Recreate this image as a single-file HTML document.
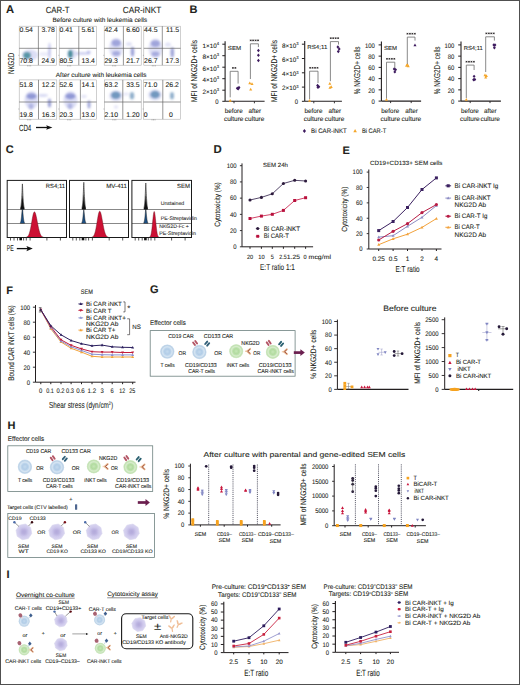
<!DOCTYPE html><html><head><meta charset="utf-8"><style>html,body{margin:0;padding:0;background:#fff;}svg{display:block;}text{font-family:"Liberation Sans",sans-serif;text-rendering:geometricPrecision;stroke:#231f20;stroke-width:0.09px;}</style></head><body>
<svg width="520" height="685" viewBox="0 0 520 685" font-family="&quot;Liberation Sans&quot;, sans-serif" fill="#231f20">
<defs><filter id="bl" x="-50%" y="-50%" width="200%" height="200%"><feGaussianBlur stdDeviation="1.1"/></filter><filter id="bl2" x="-50%" y="-50%" width="200%" height="200%"><feGaussianBlur stdDeviation="0.8"/></filter><radialGradient id="gT"><stop offset="0" stop-color="#c4daee"/><stop offset="0.6" stop-color="#b2cde7"/><stop offset="1" stop-color="#c6dbef"/></radialGradient><radialGradient id="gN"><stop offset="0" stop-color="#c6e7b7"/><stop offset="0.6" stop-color="#b2dba0"/><stop offset="1" stop-color="#c5e5b6"/></radialGradient><radialGradient id="gS"><stop offset="0" stop-color="#c3bbe4"/><stop offset="0.5" stop-color="#ccc6eb"/><stop offset="1" stop-color="#d8d4f0"/></radialGradient></defs>
<rect x="0" y="0" width="520" height="685" fill="#fff"/>
<text x="5.90" y="12.90" font-size="11.2" font-weight="bold">A</text>
<text x="45.70" y="13.10" font-size="8.9" textLength="23.90" lengthAdjust="spacingAndGlyphs">CAR-T</text>
<text x="122.70" y="13.10" font-size="8.9" textLength="38.50" lengthAdjust="spacingAndGlyphs">CAR-iNKT</text>
<text x="52.40" y="21.70" font-size="6.3" textLength="94.80" lengthAdjust="spacingAndGlyphs">Before culture with leukemia cells</text>
<text x="55.80" y="76.60" font-size="6.3" textLength="90.70" lengthAdjust="spacingAndGlyphs">After culture with leukemia cells</text>
<text transform="translate(14.00,63.40) rotate(-90)" x="0" y="0" font-size="8.6" text-anchor="middle" textLength="21.40" lengthAdjust="spacingAndGlyphs">NKG2D</text>
<text x="19.00" y="130.70" font-size="9.0" textLength="12.30" lengthAdjust="spacingAndGlyphs">CD4</text>
<line x1="36.00" y1="127.50" x2="48.00" y2="127.50" stroke="#111" stroke-width="1.3"/>
<path d="M52.40,127.50 L46.20,125.20 L47.20,127.50 L46.20,129.80 Z" fill="#111"/>
<rect x="19.20" y="26.20" width="37.30" height="39.00" fill="#fff" stroke="#a8a8a8" stroke-width="0.55"/>
<g filter="url(#bl)">
<ellipse cx="30.00" cy="55.00" rx="8.00" ry="5.50" fill="#9aa0e2" opacity="0.35"/>
<ellipse cx="27.00" cy="55.40" rx="3.80" ry="3.40" fill="#3a8494" opacity="0.8"/>
<ellipse cx="49.50" cy="51.00" rx="1.40" ry="8.50" fill="#9aa0e2" opacity="0.55"/>
<ellipse cx="44.00" cy="54.00" rx="5.00" ry="2.00" fill="#9aa0e2" opacity="0.2"/>
</g>
<line x1="38.40" y1="26.20" x2="38.40" y2="65.20" stroke="#5f5f5f" stroke-width="0.65"/>
<line x1="19.20" y1="48.30" x2="56.50" y2="48.30" stroke="#5f5f5f" stroke-width="0.65"/>
<text x="19.50" y="31.80" font-size="6.9">0.54</text>
<text x="54.90" y="31.80" font-size="6.9" text-anchor="end">3.78</text>
<text x="19.50" y="63.40" font-size="6.9">70.8</text>
<text x="54.90" y="63.40" font-size="6.9" text-anchor="end">24.9</text>
<line x1="27.70" y1="65.20" x2="27.70" y2="66.40" stroke="#777" stroke-width="0.5"/>
<line x1="29.20" y1="65.20" x2="29.20" y2="66.40" stroke="#777" stroke-width="0.5"/>
<line x1="30.70" y1="65.20" x2="30.70" y2="66.40" stroke="#777" stroke-width="0.5"/>
<line x1="18.30" y1="55.30" x2="19.20" y2="55.30" stroke="#777" stroke-width="0.5"/>
<rect x="59.20" y="26.20" width="37.30" height="39.00" fill="#fff" stroke="#a8a8a8" stroke-width="0.55"/>
<g filter="url(#bl)">
<ellipse cx="72.00" cy="54.00" rx="5.00" ry="5.00" fill="#9aa0e2" opacity="0.3"/>
<ellipse cx="70.40" cy="54.00" rx="2.40" ry="4.00" fill="#3a8494" opacity="0.9"/>
<ellipse cx="82.00" cy="53.40" rx="7.00" ry="1.40" fill="#9aa0e2" opacity="0.5"/>
<ellipse cx="88.60" cy="52.40" rx="2.00" ry="2.00" fill="#9aa0e2" opacity="0.6"/>
</g>
<line x1="78.80" y1="26.20" x2="78.80" y2="65.20" stroke="#5f5f5f" stroke-width="0.65"/>
<line x1="59.20" y1="48.30" x2="96.50" y2="48.30" stroke="#5f5f5f" stroke-width="0.65"/>
<text x="59.50" y="31.80" font-size="6.9">0.41</text>
<text x="94.90" y="31.80" font-size="6.9" text-anchor="end">5.61</text>
<text x="59.50" y="63.40" font-size="6.9">80.5</text>
<text x="94.90" y="63.40" font-size="6.9" text-anchor="end">13.4</text>
<line x1="67.70" y1="65.20" x2="67.70" y2="66.40" stroke="#777" stroke-width="0.5"/>
<line x1="69.20" y1="65.20" x2="69.20" y2="66.40" stroke="#777" stroke-width="0.5"/>
<line x1="70.70" y1="65.20" x2="70.70" y2="66.40" stroke="#777" stroke-width="0.5"/>
<line x1="58.30" y1="55.30" x2="59.20" y2="55.30" stroke="#777" stroke-width="0.5"/>
<rect x="104.20" y="26.20" width="37.00" height="39.00" fill="#fff" stroke="#a8a8a8" stroke-width="0.55"/>
<g filter="url(#bl)">
<ellipse cx="116.00" cy="48.00" rx="7.00" ry="10.00" fill="#9aa0e2" opacity="0.3"/>
<ellipse cx="116.20" cy="43.00" rx="4.60" ry="3.40" fill="#5d67c0" opacity="0.5"/>
<ellipse cx="116.20" cy="53.50" rx="4.00" ry="2.40" fill="#5d67c0" opacity="0.45"/>
<ellipse cx="132.50" cy="51.80" rx="1.80" ry="5.00" fill="#5d67c0" opacity="0.6"/>
<ellipse cx="129.00" cy="44.00" rx="3.00" ry="2.00" fill="#9aa0e2" opacity="0.3"/>
</g>
<line x1="123.40" y1="26.20" x2="123.40" y2="65.20" stroke="#5f5f5f" stroke-width="0.65"/>
<line x1="104.20" y1="48.30" x2="141.20" y2="48.30" stroke="#5f5f5f" stroke-width="0.65"/>
<text x="104.50" y="31.80" font-size="6.9">42.4</text>
<text x="139.60" y="31.80" font-size="6.9" text-anchor="end">6.60</text>
<text x="104.50" y="63.40" font-size="6.9">29.3</text>
<text x="139.60" y="63.40" font-size="6.9" text-anchor="end">21.7</text>
<line x1="112.70" y1="65.20" x2="112.70" y2="66.40" stroke="#777" stroke-width="0.5"/>
<line x1="114.20" y1="65.20" x2="114.20" y2="66.40" stroke="#777" stroke-width="0.5"/>
<line x1="115.70" y1="65.20" x2="115.70" y2="66.40" stroke="#777" stroke-width="0.5"/>
<line x1="103.30" y1="55.30" x2="104.20" y2="55.30" stroke="#777" stroke-width="0.5"/>
<rect x="143.80" y="26.20" width="36.80" height="39.00" fill="#fff" stroke="#a8a8a8" stroke-width="0.55"/>
<g filter="url(#bl)">
<ellipse cx="155.50" cy="48.50" rx="7.00" ry="10.00" fill="#9aa0e2" opacity="0.3"/>
<ellipse cx="155.40" cy="43.60" rx="4.60" ry="3.40" fill="#5d67c0" opacity="0.5"/>
<ellipse cx="155.40" cy="54.00" rx="4.00" ry="2.40" fill="#5d67c0" opacity="0.45"/>
<ellipse cx="172.30" cy="52.50" rx="1.80" ry="5.20" fill="#5d67c0" opacity="0.6"/>
<ellipse cx="168.00" cy="44.50" rx="3.00" ry="2.00" fill="#9aa0e2" opacity="0.3"/>
</g>
<line x1="162.30" y1="26.20" x2="162.30" y2="65.20" stroke="#5f5f5f" stroke-width="0.65"/>
<line x1="143.80" y1="48.30" x2="180.60" y2="48.30" stroke="#5f5f5f" stroke-width="0.65"/>
<text x="144.10" y="31.80" font-size="6.9">44.5</text>
<text x="179.00" y="31.80" font-size="6.9" text-anchor="end">11.5</text>
<text x="144.10" y="63.40" font-size="6.9">26.7</text>
<text x="179.00" y="63.40" font-size="6.9" text-anchor="end">17.3</text>
<line x1="152.30" y1="65.20" x2="152.30" y2="66.40" stroke="#777" stroke-width="0.5"/>
<line x1="153.80" y1="65.20" x2="153.80" y2="66.40" stroke="#777" stroke-width="0.5"/>
<line x1="155.30" y1="65.20" x2="155.30" y2="66.40" stroke="#777" stroke-width="0.5"/>
<line x1="142.90" y1="55.30" x2="143.80" y2="55.30" stroke="#777" stroke-width="0.5"/>
<rect x="19.20" y="79.90" width="37.60" height="39.30" fill="#fff" stroke="#a8a8a8" stroke-width="0.55"/>
<g filter="url(#bl)">
<ellipse cx="31.50" cy="100.00" rx="7.00" ry="9.00" fill="#9aa0e2" opacity="0.35"/>
<ellipse cx="31.50" cy="96.20" rx="5.00" ry="3.00" fill="#5d67c0" opacity="0.6"/>
<ellipse cx="31.00" cy="106.50" rx="2.40" ry="3.20" fill="#5d67c0" opacity="0.35"/>
<ellipse cx="49.50" cy="103.00" rx="1.70" ry="4.60" fill="#5d67c0" opacity="0.6"/>
<ellipse cx="43.00" cy="95.50" rx="5.00" ry="1.40" fill="#9aa0e2" opacity="0.4"/>
</g>
<line x1="38.50" y1="79.90" x2="38.50" y2="119.20" stroke="#5f5f5f" stroke-width="0.65"/>
<line x1="19.20" y1="102.00" x2="56.80" y2="102.00" stroke="#5f5f5f" stroke-width="0.65"/>
<text x="19.50" y="87.40" font-size="6.9">51.8</text>
<text x="55.20" y="87.40" font-size="6.9" text-anchor="end">12.2</text>
<text x="19.50" y="116.90" font-size="6.9">19.8</text>
<text x="55.20" y="116.90" font-size="6.9" text-anchor="end">16.3</text>
<line x1="27.70" y1="119.20" x2="27.70" y2="120.40" stroke="#777" stroke-width="0.5"/>
<line x1="29.20" y1="119.20" x2="29.20" y2="120.40" stroke="#777" stroke-width="0.5"/>
<line x1="30.70" y1="119.20" x2="30.70" y2="120.40" stroke="#777" stroke-width="0.5"/>
<line x1="18.30" y1="109.00" x2="19.20" y2="109.00" stroke="#777" stroke-width="0.5"/>
<rect x="59.20" y="79.90" width="37.30" height="39.30" fill="#fff" stroke="#a8a8a8" stroke-width="0.55"/>
<g filter="url(#bl)">
<ellipse cx="70.50" cy="100.00" rx="7.00" ry="9.00" fill="#9aa0e2" opacity="0.35"/>
<ellipse cx="70.40" cy="96.20" rx="5.00" ry="3.00" fill="#5d67c0" opacity="0.6"/>
<ellipse cx="70.00" cy="106.20" rx="2.40" ry="3.20" fill="#5d67c0" opacity="0.35"/>
<ellipse cx="89.00" cy="104.40" rx="1.60" ry="4.20" fill="#5d67c0" opacity="0.55"/>
<ellipse cx="84.00" cy="96.50" rx="3.00" ry="1.40" fill="#9aa0e2" opacity="0.3"/>
</g>
<line x1="80.40" y1="79.90" x2="80.40" y2="119.20" stroke="#5f5f5f" stroke-width="0.65"/>
<line x1="59.20" y1="102.00" x2="96.50" y2="102.00" stroke="#5f5f5f" stroke-width="0.65"/>
<text x="59.50" y="87.40" font-size="6.9">52.6</text>
<text x="94.90" y="87.40" font-size="6.9" text-anchor="end">14.1</text>
<text x="59.50" y="116.90" font-size="6.9">20.3</text>
<text x="94.90" y="116.90" font-size="6.9" text-anchor="end">13.0</text>
<line x1="67.70" y1="119.20" x2="67.70" y2="120.40" stroke="#777" stroke-width="0.5"/>
<line x1="69.20" y1="119.20" x2="69.20" y2="120.40" stroke="#777" stroke-width="0.5"/>
<line x1="70.70" y1="119.20" x2="70.70" y2="120.40" stroke="#777" stroke-width="0.5"/>
<line x1="58.30" y1="109.00" x2="59.20" y2="109.00" stroke="#777" stroke-width="0.5"/>
<rect x="104.30" y="79.90" width="36.90" height="39.30" fill="#fff" stroke="#a8a8a8" stroke-width="0.55"/>
<g filter="url(#bl)">
<ellipse cx="116.00" cy="96.00" rx="7.00" ry="5.50" fill="#9aa0e2" opacity="0.3"/>
<ellipse cx="115.80" cy="95.20" rx="4.80" ry="3.80" fill="#4378a8" opacity="0.7"/>
<ellipse cx="132.00" cy="95.70" rx="2.20" ry="3.80" fill="#4378a8" opacity="0.6"/>
<ellipse cx="116.00" cy="107.00" rx="2.00" ry="2.00" fill="#9aa0e2" opacity="0.25"/>
<ellipse cx="126.00" cy="94.00" rx="3.00" ry="1.50" fill="#9aa0e2" opacity="0.25"/>
</g>
<line x1="122.80" y1="79.90" x2="122.80" y2="119.20" stroke="#5f5f5f" stroke-width="0.65"/>
<line x1="104.30" y1="102.00" x2="141.20" y2="102.00" stroke="#5f5f5f" stroke-width="0.65"/>
<text x="104.60" y="87.40" font-size="6.9">63.2</text>
<text x="139.60" y="87.40" font-size="6.9" text-anchor="end">33.5</text>
<text x="104.60" y="116.90" font-size="6.9">2.10</text>
<text x="139.60" y="116.90" font-size="6.9" text-anchor="end">1.20</text>
<line x1="112.80" y1="119.20" x2="112.80" y2="120.40" stroke="#777" stroke-width="0.5"/>
<line x1="114.30" y1="119.20" x2="114.30" y2="120.40" stroke="#777" stroke-width="0.5"/>
<line x1="115.80" y1="119.20" x2="115.80" y2="120.40" stroke="#777" stroke-width="0.5"/>
<line x1="103.40" y1="109.00" x2="104.30" y2="109.00" stroke="#777" stroke-width="0.5"/>
<rect x="143.50" y="79.90" width="37.00" height="39.30" fill="#fff" stroke="#a8a8a8" stroke-width="0.55"/>
<g filter="url(#bl)">
<ellipse cx="155.00" cy="95.00" rx="7.00" ry="5.50" fill="#9aa0e2" opacity="0.3"/>
<ellipse cx="155.10" cy="94.60" rx="4.80" ry="3.80" fill="#4378a8" opacity="0.7"/>
<ellipse cx="172.00" cy="95.70" rx="2.00" ry="3.80" fill="#4378a8" opacity="0.6"/>
</g>
<line x1="162.80" y1="79.90" x2="162.80" y2="119.20" stroke="#5f5f5f" stroke-width="0.65"/>
<line x1="143.50" y1="102.00" x2="180.50" y2="102.00" stroke="#5f5f5f" stroke-width="0.65"/>
<text x="143.80" y="87.40" font-size="6.9">71.0</text>
<text x="178.90" y="87.40" font-size="6.9" text-anchor="end">26.2</text>
<text x="143.80" y="116.90" font-size="6.9">0</text>
<text x="178.90" y="116.90" font-size="6.9" text-anchor="end"></text>
<line x1="152.00" y1="119.20" x2="152.00" y2="120.40" stroke="#777" stroke-width="0.5"/>
<line x1="153.50" y1="119.20" x2="153.50" y2="120.40" stroke="#777" stroke-width="0.5"/>
<line x1="155.00" y1="119.20" x2="155.00" y2="120.40" stroke="#777" stroke-width="0.5"/>
<line x1="142.60" y1="109.00" x2="143.50" y2="109.00" stroke="#777" stroke-width="0.5"/>
<text x="171.00" y="116.90" font-size="6.9" text-anchor="middle">0</text>
<text x="189.60" y="13.20" font-size="11" font-weight="bold">B</text>
<line x1="225.10" y1="41.20" x2="225.10" y2="101.30" stroke="#231f20" stroke-width="1.1"/>
<line x1="222.30" y1="44.20" x2="225.10" y2="44.20" stroke="#231f20" stroke-width="1.0"/>
<text x="202.50" y="47.50" font-size="6.3" textLength="16.60" lengthAdjust="spacingAndGlyphs">1×10<tspan font-size="4.2" dy="-2.6">4</tspan></text>
<line x1="222.30" y1="55.70" x2="225.10" y2="55.70" stroke="#231f20" stroke-width="1.0"/>
<text x="202.50" y="59.00" font-size="6.3" textLength="16.60" lengthAdjust="spacingAndGlyphs">8×10<tspan font-size="4.2" dy="-2.6">3</tspan></text>
<line x1="222.30" y1="67.20" x2="225.10" y2="67.20" stroke="#231f20" stroke-width="1.0"/>
<text x="202.50" y="70.50" font-size="6.3" textLength="16.60" lengthAdjust="spacingAndGlyphs">6×10<tspan font-size="4.2" dy="-2.6">3</tspan></text>
<line x1="222.30" y1="78.70" x2="225.10" y2="78.70" stroke="#231f20" stroke-width="1.0"/>
<text x="202.50" y="82.00" font-size="6.3" textLength="16.60" lengthAdjust="spacingAndGlyphs">4×10<tspan font-size="4.2" dy="-2.6">3</tspan></text>
<line x1="222.30" y1="90.20" x2="225.10" y2="90.20" stroke="#231f20" stroke-width="1.0"/>
<text x="202.50" y="93.50" font-size="6.3" textLength="16.60" lengthAdjust="spacingAndGlyphs">2×10<tspan font-size="4.2" dy="-2.6">3</tspan></text>
<line x1="222.30" y1="101.30" x2="225.10" y2="101.30" stroke="#231f20" stroke-width="1.0"/>
<text x="215.20" y="103.95" font-size="6.6" textLength="3.30" lengthAdjust="spacingAndGlyphs">0</text>
<line x1="225.10" y1="101.30" x2="264.60" y2="101.30" stroke="#231f20" stroke-width="1.1"/>
<line x1="234.00" y1="101.30" x2="234.00" y2="103.30" stroke="#231f20" stroke-width="0.9"/>
<line x1="254.40" y1="101.30" x2="254.40" y2="103.30" stroke="#231f20" stroke-width="0.9"/>
<path d="M230.20,98.93 L231.75,101.72 L228.65,101.72 Z" fill="#f4a62a"/>
<path d="M237.30,86.56 L238.75,88.30 L237.30,90.04 L235.85,88.30 Z" fill="#3d1a5e"/>
<path d="M239.00,85.86 L240.45,87.60 L239.00,89.34 L237.55,87.60 Z" fill="#3d1a5e"/>
<path d="M238.20,87.06 L239.65,88.80 L238.20,90.54 L236.75,88.80 Z" fill="#3d1a5e"/>
<path d="M249.80,81.43 L251.35,84.22 L248.25,84.22 Z" fill="#f4a62a"/>
<path d="M252.00,82.33 L253.55,85.12 L250.45,85.12 Z" fill="#f4a62a"/>
<path d="M250.70,87.63 L252.25,90.42 L249.15,90.42 Z" fill="#f4a62a"/>
<path d="M258.40,48.66 L259.85,50.40 L258.40,52.14 L256.95,50.40 Z" fill="#3d1a5e"/>
<path d="M258.40,53.46 L259.85,55.20 L258.40,56.94 L256.95,55.20 Z" fill="#3d1a5e"/>
<path d="M258.40,58.66 L259.85,60.40 L258.40,62.14 L256.95,60.40 Z" fill="#3d1a5e"/>
<path d="M230.20,97.30 L230.20,71.30 L238.10,71.30 L238.10,83.60" fill="none" stroke="#6b6b6b" stroke-width="0.8"/>
<line x1="231.97" y1="67.90" x2="233.87" y2="67.90" stroke="#231f20" stroke-width="0.65"/>
<line x1="232.45" y1="67.08" x2="233.40" y2="68.72" stroke="#231f20" stroke-width="0.65"/>
<line x1="233.40" y1="67.08" x2="232.45" y2="68.72" stroke="#231f20" stroke-width="0.65"/>
<line x1="234.42" y1="67.90" x2="236.32" y2="67.90" stroke="#231f20" stroke-width="0.65"/>
<line x1="234.90" y1="67.08" x2="235.85" y2="68.72" stroke="#231f20" stroke-width="0.65"/>
<line x1="235.85" y1="67.08" x2="234.90" y2="68.72" stroke="#231f20" stroke-width="0.65"/>
<path d="M250.40,79.00 L250.40,43.80 L258.40,43.80 L258.40,47.10" fill="none" stroke="#6b6b6b" stroke-width="0.8"/>
<line x1="249.77" y1="40.40" x2="251.67" y2="40.40" stroke="#231f20" stroke-width="0.65"/>
<line x1="250.25" y1="39.58" x2="251.20" y2="41.22" stroke="#231f20" stroke-width="0.65"/>
<line x1="251.20" y1="39.58" x2="250.25" y2="41.22" stroke="#231f20" stroke-width="0.65"/>
<line x1="252.22" y1="40.40" x2="254.12" y2="40.40" stroke="#231f20" stroke-width="0.65"/>
<line x1="252.70" y1="39.58" x2="253.65" y2="41.22" stroke="#231f20" stroke-width="0.65"/>
<line x1="253.65" y1="39.58" x2="252.70" y2="41.22" stroke="#231f20" stroke-width="0.65"/>
<line x1="254.67" y1="40.40" x2="256.57" y2="40.40" stroke="#231f20" stroke-width="0.65"/>
<line x1="255.15" y1="39.58" x2="256.10" y2="41.22" stroke="#231f20" stroke-width="0.65"/>
<line x1="256.10" y1="39.58" x2="255.15" y2="41.22" stroke="#231f20" stroke-width="0.65"/>
<line x1="257.12" y1="40.40" x2="259.02" y2="40.40" stroke="#231f20" stroke-width="0.65"/>
<line x1="257.60" y1="39.58" x2="258.55" y2="41.22" stroke="#231f20" stroke-width="0.65"/>
<line x1="258.55" y1="39.58" x2="257.60" y2="41.22" stroke="#231f20" stroke-width="0.65"/>
<text x="227.80" y="50.30" font-size="5.9" textLength="13.30" lengthAdjust="spacingAndGlyphs">SEM</text>
<text transform="translate(197.40,70.90) rotate(-90)" x="0" y="0" font-size="8.5" text-anchor="middle" textLength="62.00" lengthAdjust="spacingAndGlyphs">MFI of NKG2D+ cells</text>
<text x="233.70" y="113.10" font-size="6.4" text-anchor="middle" textLength="17.90" lengthAdjust="spacingAndGlyphs">before</text>
<text x="254.80" y="113.10" font-size="6.4" text-anchor="middle" textLength="12.60" lengthAdjust="spacingAndGlyphs">after</text>
<text x="233.70" y="120.90" font-size="6.4" text-anchor="middle" textLength="19.60" lengthAdjust="spacingAndGlyphs">culture</text>
<text x="254.60" y="120.90" font-size="6.4" text-anchor="middle" textLength="19.60" lengthAdjust="spacingAndGlyphs">culture</text>
<line x1="304.70" y1="41.00" x2="304.70" y2="101.30" stroke="#231f20" stroke-width="1.1"/>
<line x1="301.90" y1="44.20" x2="304.70" y2="44.20" stroke="#231f20" stroke-width="1.0"/>
<text x="282.10" y="47.50" font-size="6.3" textLength="16.60" lengthAdjust="spacingAndGlyphs">8×10<tspan font-size="4.2" dy="-2.6">3</tspan></text>
<line x1="301.90" y1="58.50" x2="304.70" y2="58.50" stroke="#231f20" stroke-width="1.0"/>
<text x="282.10" y="61.80" font-size="6.3" textLength="16.60" lengthAdjust="spacingAndGlyphs">6×10<tspan font-size="4.2" dy="-2.6">3</tspan></text>
<line x1="301.90" y1="72.80" x2="304.70" y2="72.80" stroke="#231f20" stroke-width="1.0"/>
<text x="282.10" y="76.10" font-size="6.3" textLength="16.60" lengthAdjust="spacingAndGlyphs">4×10<tspan font-size="4.2" dy="-2.6">3</tspan></text>
<line x1="301.90" y1="87.10" x2="304.70" y2="87.10" stroke="#231f20" stroke-width="1.0"/>
<text x="282.10" y="90.40" font-size="6.3" textLength="16.60" lengthAdjust="spacingAndGlyphs">2×10<tspan font-size="4.2" dy="-2.6">3</tspan></text>
<line x1="301.90" y1="101.30" x2="304.70" y2="101.30" stroke="#231f20" stroke-width="1.0"/>
<text x="294.80" y="103.95" font-size="6.6" textLength="3.30" lengthAdjust="spacingAndGlyphs">0</text>
<line x1="304.70" y1="101.30" x2="341.90" y2="101.30" stroke="#231f20" stroke-width="1.1"/>
<line x1="313.80" y1="101.30" x2="313.80" y2="103.30" stroke="#231f20" stroke-width="0.9"/>
<line x1="334.40" y1="101.30" x2="334.40" y2="103.30" stroke="#231f20" stroke-width="0.9"/>
<path d="M309.60,98.93 L311.15,101.72 L308.05,101.72 Z" fill="#f4a62a"/>
<path d="M317.60,83.76 L319.05,85.50 L317.60,87.24 L316.15,85.50 Z" fill="#3d1a5e"/>
<path d="M318.80,85.06 L320.25,86.80 L318.80,88.54 L317.35,86.80 Z" fill="#3d1a5e"/>
<path d="M317.90,85.56 L319.35,87.30 L317.90,89.04 L316.45,87.30 Z" fill="#3d1a5e"/>
<path d="M329.80,81.93 L331.35,84.72 L328.25,84.72 Z" fill="#f4a62a"/>
<path d="M331.20,85.13 L332.75,87.92 L329.65,87.92 Z" fill="#f4a62a"/>
<path d="M330.00,85.93 L331.55,88.72 L328.45,88.72 Z" fill="#f4a62a"/>
<path d="M337.90,45.26 L339.35,47.00 L337.90,48.74 L336.45,47.00 Z" fill="#3d1a5e"/>
<path d="M339.20,47.26 L340.65,49.00 L339.20,50.74 L337.75,49.00 Z" fill="#3d1a5e"/>
<path d="M338.30,49.86 L339.75,51.60 L338.30,53.34 L336.85,51.60 Z" fill="#3d1a5e"/>
<path d="M309.60,99.00 L309.60,71.20 L318.00,71.20 L318.00,83.00" fill="none" stroke="#6b6b6b" stroke-width="0.8"/>
<line x1="309.18" y1="67.80" x2="311.07" y2="67.80" stroke="#231f20" stroke-width="0.65"/>
<line x1="309.65" y1="66.98" x2="310.60" y2="68.62" stroke="#231f20" stroke-width="0.65"/>
<line x1="310.60" y1="66.98" x2="309.65" y2="68.62" stroke="#231f20" stroke-width="0.65"/>
<line x1="311.62" y1="67.80" x2="313.52" y2="67.80" stroke="#231f20" stroke-width="0.65"/>
<line x1="312.10" y1="66.98" x2="313.05" y2="68.62" stroke="#231f20" stroke-width="0.65"/>
<line x1="313.05" y1="66.98" x2="312.10" y2="68.62" stroke="#231f20" stroke-width="0.65"/>
<line x1="314.08" y1="67.80" x2="315.98" y2="67.80" stroke="#231f20" stroke-width="0.65"/>
<line x1="314.55" y1="66.98" x2="315.50" y2="68.62" stroke="#231f20" stroke-width="0.65"/>
<line x1="315.50" y1="66.98" x2="314.55" y2="68.62" stroke="#231f20" stroke-width="0.65"/>
<line x1="316.53" y1="67.80" x2="318.43" y2="67.80" stroke="#231f20" stroke-width="0.65"/>
<line x1="317.00" y1="66.98" x2="317.95" y2="68.62" stroke="#231f20" stroke-width="0.65"/>
<line x1="317.95" y1="66.98" x2="317.00" y2="68.62" stroke="#231f20" stroke-width="0.65"/>
<path d="M330.40,81.20 L330.40,41.60 L338.50,41.60 L338.50,44.60" fill="none" stroke="#6b6b6b" stroke-width="0.8"/>
<line x1="329.82" y1="38.20" x2="331.72" y2="38.20" stroke="#231f20" stroke-width="0.65"/>
<line x1="330.30" y1="37.38" x2="331.25" y2="39.02" stroke="#231f20" stroke-width="0.65"/>
<line x1="331.25" y1="37.38" x2="330.30" y2="39.02" stroke="#231f20" stroke-width="0.65"/>
<line x1="332.27" y1="38.20" x2="334.17" y2="38.20" stroke="#231f20" stroke-width="0.65"/>
<line x1="332.75" y1="37.38" x2="333.70" y2="39.02" stroke="#231f20" stroke-width="0.65"/>
<line x1="333.70" y1="37.38" x2="332.75" y2="39.02" stroke="#231f20" stroke-width="0.65"/>
<line x1="334.73" y1="38.20" x2="336.62" y2="38.20" stroke="#231f20" stroke-width="0.65"/>
<line x1="335.20" y1="37.38" x2="336.15" y2="39.02" stroke="#231f20" stroke-width="0.65"/>
<line x1="336.15" y1="37.38" x2="335.20" y2="39.02" stroke="#231f20" stroke-width="0.65"/>
<line x1="337.18" y1="38.20" x2="339.07" y2="38.20" stroke="#231f20" stroke-width="0.65"/>
<line x1="337.65" y1="37.38" x2="338.60" y2="39.02" stroke="#231f20" stroke-width="0.65"/>
<line x1="338.60" y1="37.38" x2="337.65" y2="39.02" stroke="#231f20" stroke-width="0.65"/>
<text x="307.30" y="48.60" font-size="5.9" textLength="20.00" lengthAdjust="spacingAndGlyphs">RS4;11</text>
<text transform="translate(277.00,70.90) rotate(-90)" x="0" y="0" font-size="8.5" text-anchor="middle" textLength="62.00" lengthAdjust="spacingAndGlyphs">MFI of NKG2D+ cells</text>
<text x="313.50" y="113.10" font-size="6.4" text-anchor="middle" textLength="17.90" lengthAdjust="spacingAndGlyphs">before</text>
<text x="334.80" y="113.10" font-size="6.4" text-anchor="middle" textLength="12.60" lengthAdjust="spacingAndGlyphs">after</text>
<text x="313.50" y="120.90" font-size="6.4" text-anchor="middle" textLength="19.60" lengthAdjust="spacingAndGlyphs">culture</text>
<text x="334.60" y="120.90" font-size="6.4" text-anchor="middle" textLength="19.60" lengthAdjust="spacingAndGlyphs">culture</text>
<line x1="381.40" y1="41.40" x2="381.40" y2="101.10" stroke="#231f20" stroke-width="1.1"/>
<line x1="378.60" y1="44.90" x2="381.40" y2="44.90" stroke="#231f20" stroke-width="1.0"/>
<text x="364.90" y="47.55" font-size="6.6" textLength="9.90" lengthAdjust="spacingAndGlyphs">100</text>
<line x1="378.60" y1="56.14" x2="381.40" y2="56.14" stroke="#231f20" stroke-width="1.0"/>
<text x="368.20" y="58.79" font-size="6.6" textLength="6.60" lengthAdjust="spacingAndGlyphs">80</text>
<line x1="378.60" y1="67.38" x2="381.40" y2="67.38" stroke="#231f20" stroke-width="1.0"/>
<text x="368.20" y="70.03" font-size="6.6" textLength="6.60" lengthAdjust="spacingAndGlyphs">60</text>
<line x1="378.60" y1="78.62" x2="381.40" y2="78.62" stroke="#231f20" stroke-width="1.0"/>
<text x="368.20" y="81.27" font-size="6.6" textLength="6.60" lengthAdjust="spacingAndGlyphs">40</text>
<line x1="378.60" y1="89.86" x2="381.40" y2="89.86" stroke="#231f20" stroke-width="1.0"/>
<text x="368.20" y="92.51" font-size="6.6" textLength="6.60" lengthAdjust="spacingAndGlyphs">20</text>
<line x1="378.60" y1="101.10" x2="381.40" y2="101.10" stroke="#231f20" stroke-width="1.0"/>
<text x="371.50" y="103.75" font-size="6.6" textLength="3.30" lengthAdjust="spacingAndGlyphs">0</text>
<line x1="381.40" y1="101.10" x2="421.10" y2="101.10" stroke="#231f20" stroke-width="1.1"/>
<line x1="390.60" y1="101.10" x2="390.60" y2="103.10" stroke="#231f20" stroke-width="0.9"/>
<line x1="411.20" y1="101.10" x2="411.20" y2="103.10" stroke="#231f20" stroke-width="0.9"/>
<path d="M386.50,97.93 L388.05,100.72 L384.95,100.72 Z" fill="#f4a62a"/>
<path d="M394.80,70.14 L396.25,71.88 L394.80,73.62 L393.35,71.88 Z" fill="#3d1a5e"/>
<path d="M394.20,67.33 L395.65,69.07 L394.20,70.81 L392.75,69.07 Z" fill="#3d1a5e"/>
<path d="M395.60,67.89 L397.05,69.63 L395.60,71.37 L394.15,69.63 Z" fill="#3d1a5e"/>
<path d="M406.60,64.02 L408.15,66.81 L405.05,66.81 Z" fill="#f4a62a"/>
<path d="M408.20,64.58 L409.75,67.37 L406.65,67.37 Z" fill="#f4a62a"/>
<path d="M407.30,62.90 L408.85,65.69 L405.75,65.69 Z" fill="#f4a62a"/>
<path d="M415.00,43.51 L416.55,46.30 L413.45,46.30 Z" fill="#3d1a5e"/>
<path d="M386.50,98.50 L386.50,62.20 L394.80,62.20 L394.80,68.30" fill="none" stroke="#6b6b6b" stroke-width="0.8"/>
<line x1="386.02" y1="58.80" x2="387.92" y2="58.80" stroke="#231f20" stroke-width="0.65"/>
<line x1="386.50" y1="57.98" x2="387.45" y2="59.62" stroke="#231f20" stroke-width="0.65"/>
<line x1="387.45" y1="57.98" x2="386.50" y2="59.62" stroke="#231f20" stroke-width="0.65"/>
<line x1="388.47" y1="58.80" x2="390.37" y2="58.80" stroke="#231f20" stroke-width="0.65"/>
<line x1="388.95" y1="57.98" x2="389.90" y2="59.62" stroke="#231f20" stroke-width="0.65"/>
<line x1="389.90" y1="57.98" x2="388.95" y2="59.62" stroke="#231f20" stroke-width="0.65"/>
<line x1="390.93" y1="58.80" x2="392.82" y2="58.80" stroke="#231f20" stroke-width="0.65"/>
<line x1="391.40" y1="57.98" x2="392.35" y2="59.62" stroke="#231f20" stroke-width="0.65"/>
<line x1="392.35" y1="57.98" x2="391.40" y2="59.62" stroke="#231f20" stroke-width="0.65"/>
<line x1="393.38" y1="58.80" x2="395.27" y2="58.80" stroke="#231f20" stroke-width="0.65"/>
<line x1="393.85" y1="57.98" x2="394.80" y2="59.62" stroke="#231f20" stroke-width="0.65"/>
<line x1="394.80" y1="57.98" x2="393.85" y2="59.62" stroke="#231f20" stroke-width="0.65"/>
<path d="M407.30,63.90 L407.30,37.10 L415.00,37.10 L415.00,40.60" fill="none" stroke="#6b6b6b" stroke-width="0.8"/>
<line x1="406.52" y1="33.70" x2="408.42" y2="33.70" stroke="#231f20" stroke-width="0.65"/>
<line x1="407.00" y1="32.88" x2="407.95" y2="34.52" stroke="#231f20" stroke-width="0.65"/>
<line x1="407.95" y1="32.88" x2="407.00" y2="34.52" stroke="#231f20" stroke-width="0.65"/>
<line x1="408.97" y1="33.70" x2="410.87" y2="33.70" stroke="#231f20" stroke-width="0.65"/>
<line x1="409.45" y1="32.88" x2="410.40" y2="34.52" stroke="#231f20" stroke-width="0.65"/>
<line x1="410.40" y1="32.88" x2="409.45" y2="34.52" stroke="#231f20" stroke-width="0.65"/>
<line x1="411.43" y1="33.70" x2="413.32" y2="33.70" stroke="#231f20" stroke-width="0.65"/>
<line x1="411.90" y1="32.88" x2="412.85" y2="34.52" stroke="#231f20" stroke-width="0.65"/>
<line x1="412.85" y1="32.88" x2="411.90" y2="34.52" stroke="#231f20" stroke-width="0.65"/>
<line x1="413.88" y1="33.70" x2="415.77" y2="33.70" stroke="#231f20" stroke-width="0.65"/>
<line x1="414.35" y1="32.88" x2="415.30" y2="34.52" stroke="#231f20" stroke-width="0.65"/>
<line x1="415.30" y1="32.88" x2="414.35" y2="34.52" stroke="#231f20" stroke-width="0.65"/>
<text x="383.90" y="50.40" font-size="5.9" textLength="13.00" lengthAdjust="spacingAndGlyphs">SEM</text>
<text transform="translate(359.50,70.40) rotate(-90)" x="0" y="0" font-size="8.5" text-anchor="middle" textLength="47.60" lengthAdjust="spacingAndGlyphs">% NKG2D+ cells</text>
<text x="390.30" y="112.90" font-size="6.4" text-anchor="middle" textLength="17.90" lengthAdjust="spacingAndGlyphs">before</text>
<text x="411.60" y="112.90" font-size="6.4" text-anchor="middle" textLength="12.60" lengthAdjust="spacingAndGlyphs">after</text>
<text x="390.30" y="120.70" font-size="6.4" text-anchor="middle" textLength="19.60" lengthAdjust="spacingAndGlyphs">culture</text>
<text x="411.40" y="120.70" font-size="6.4" text-anchor="middle" textLength="19.60" lengthAdjust="spacingAndGlyphs">culture</text>
<line x1="461.00" y1="41.40" x2="461.00" y2="101.10" stroke="#231f20" stroke-width="1.1"/>
<line x1="458.20" y1="44.90" x2="461.00" y2="44.90" stroke="#231f20" stroke-width="1.0"/>
<text x="444.50" y="47.55" font-size="6.6" textLength="9.90" lengthAdjust="spacingAndGlyphs">100</text>
<line x1="458.20" y1="56.14" x2="461.00" y2="56.14" stroke="#231f20" stroke-width="1.0"/>
<text x="447.80" y="58.79" font-size="6.6" textLength="6.60" lengthAdjust="spacingAndGlyphs">80</text>
<line x1="458.20" y1="67.38" x2="461.00" y2="67.38" stroke="#231f20" stroke-width="1.0"/>
<text x="447.80" y="70.03" font-size="6.6" textLength="6.60" lengthAdjust="spacingAndGlyphs">60</text>
<line x1="458.20" y1="78.62" x2="461.00" y2="78.62" stroke="#231f20" stroke-width="1.0"/>
<text x="447.80" y="81.27" font-size="6.6" textLength="6.60" lengthAdjust="spacingAndGlyphs">40</text>
<line x1="458.20" y1="89.86" x2="461.00" y2="89.86" stroke="#231f20" stroke-width="1.0"/>
<text x="447.80" y="92.51" font-size="6.6" textLength="6.60" lengthAdjust="spacingAndGlyphs">20</text>
<line x1="458.20" y1="101.10" x2="461.00" y2="101.10" stroke="#231f20" stroke-width="1.0"/>
<text x="451.10" y="103.75" font-size="6.6" textLength="3.30" lengthAdjust="spacingAndGlyphs">0</text>
<line x1="461.00" y1="101.10" x2="500.90" y2="101.10" stroke="#231f20" stroke-width="1.1"/>
<line x1="470.20" y1="101.10" x2="470.20" y2="103.10" stroke="#231f20" stroke-width="0.9"/>
<line x1="490.00" y1="101.10" x2="490.00" y2="103.10" stroke="#231f20" stroke-width="0.9"/>
<path d="M466.30,97.93 L467.85,100.72 L464.75,100.72 Z" fill="#f4a62a"/>
<path d="M474.10,74.63 L475.55,76.37 L474.10,78.11 L472.65,76.37 Z" fill="#3d1a5e"/>
<path d="M473.60,78.00 L475.05,79.74 L473.60,81.48 L472.15,79.74 Z" fill="#3d1a5e"/>
<path d="M474.80,77.72 L476.25,79.46 L474.80,81.20 L473.35,79.46 Z" fill="#3d1a5e"/>
<path d="M485.00,73.57 L486.55,76.36 L483.45,76.36 Z" fill="#f4a62a"/>
<path d="M486.40,74.14 L487.95,76.93 L484.85,76.93 Z" fill="#f4a62a"/>
<path d="M485.70,75.82 L487.25,78.61 L484.15,78.61 Z" fill="#f4a62a"/>
<path d="M493.80,43.16 L495.25,44.90 L493.80,46.64 L492.35,44.90 Z" fill="#3d1a5e"/>
<path d="M495.00,43.16 L496.45,44.90 L495.00,46.64 L493.55,44.90 Z" fill="#3d1a5e"/>
<path d="M494.40,45.97 L495.85,47.71 L494.40,49.45 L492.95,47.71 Z" fill="#3d1a5e"/>
<path d="M466.30,98.00 L466.30,65.10 L474.10,65.10 L474.10,70.00" fill="none" stroke="#6b6b6b" stroke-width="0.8"/>
<line x1="465.58" y1="61.70" x2="467.48" y2="61.70" stroke="#231f20" stroke-width="0.65"/>
<line x1="466.05" y1="60.88" x2="467.00" y2="62.52" stroke="#231f20" stroke-width="0.65"/>
<line x1="467.00" y1="60.88" x2="466.05" y2="62.52" stroke="#231f20" stroke-width="0.65"/>
<line x1="468.03" y1="61.70" x2="469.93" y2="61.70" stroke="#231f20" stroke-width="0.65"/>
<line x1="468.50" y1="60.88" x2="469.45" y2="62.52" stroke="#231f20" stroke-width="0.65"/>
<line x1="469.45" y1="60.88" x2="468.50" y2="62.52" stroke="#231f20" stroke-width="0.65"/>
<line x1="470.48" y1="61.70" x2="472.38" y2="61.70" stroke="#231f20" stroke-width="0.65"/>
<line x1="470.95" y1="60.88" x2="471.90" y2="62.52" stroke="#231f20" stroke-width="0.65"/>
<line x1="471.90" y1="60.88" x2="470.95" y2="62.52" stroke="#231f20" stroke-width="0.65"/>
<line x1="472.93" y1="61.70" x2="474.83" y2="61.70" stroke="#231f20" stroke-width="0.65"/>
<line x1="473.40" y1="60.88" x2="474.35" y2="62.52" stroke="#231f20" stroke-width="0.65"/>
<line x1="474.35" y1="60.88" x2="473.40" y2="62.52" stroke="#231f20" stroke-width="0.65"/>
<path d="M485.70,72.00 L485.70,36.80 L494.40,36.80 L494.40,40.60" fill="none" stroke="#6b6b6b" stroke-width="0.8"/>
<line x1="485.42" y1="33.40" x2="487.32" y2="33.40" stroke="#231f20" stroke-width="0.65"/>
<line x1="485.90" y1="32.58" x2="486.85" y2="34.22" stroke="#231f20" stroke-width="0.65"/>
<line x1="486.85" y1="32.58" x2="485.90" y2="34.22" stroke="#231f20" stroke-width="0.65"/>
<line x1="487.87" y1="33.40" x2="489.77" y2="33.40" stroke="#231f20" stroke-width="0.65"/>
<line x1="488.35" y1="32.58" x2="489.30" y2="34.22" stroke="#231f20" stroke-width="0.65"/>
<line x1="489.30" y1="32.58" x2="488.35" y2="34.22" stroke="#231f20" stroke-width="0.65"/>
<line x1="490.32" y1="33.40" x2="492.22" y2="33.40" stroke="#231f20" stroke-width="0.65"/>
<line x1="490.80" y1="32.58" x2="491.75" y2="34.22" stroke="#231f20" stroke-width="0.65"/>
<line x1="491.75" y1="32.58" x2="490.80" y2="34.22" stroke="#231f20" stroke-width="0.65"/>
<line x1="492.77" y1="33.40" x2="494.67" y2="33.40" stroke="#231f20" stroke-width="0.65"/>
<line x1="493.25" y1="32.58" x2="494.20" y2="34.22" stroke="#231f20" stroke-width="0.65"/>
<line x1="494.20" y1="32.58" x2="493.25" y2="34.22" stroke="#231f20" stroke-width="0.65"/>
<text x="463.70" y="50.40" font-size="5.9" textLength="19.10" lengthAdjust="spacingAndGlyphs">RS4;11</text>
<text transform="translate(440.20,70.40) rotate(-90)" x="0" y="0" font-size="8.5" text-anchor="middle" textLength="47.60" lengthAdjust="spacingAndGlyphs">% NKG2D+ cells</text>
<text x="469.90" y="112.90" font-size="6.4" text-anchor="middle" textLength="17.90" lengthAdjust="spacingAndGlyphs">before</text>
<text x="490.40" y="112.90" font-size="6.4" text-anchor="middle" textLength="12.60" lengthAdjust="spacingAndGlyphs">after</text>
<text x="469.90" y="120.70" font-size="6.4" text-anchor="middle" textLength="19.60" lengthAdjust="spacingAndGlyphs">culture</text>
<text x="490.20" y="120.70" font-size="6.4" text-anchor="middle" textLength="19.60" lengthAdjust="spacingAndGlyphs">culture</text>
<path d="M304.40,129.08 L306.00,131.00 L304.40,132.92 L302.80,131.00 Z" fill="#3d1a5e"/>
<text x="311.10" y="133.30" font-size="6.6" textLength="35.60" lengthAdjust="spacingAndGlyphs">Bi CAR-iNKT</text>
<path d="M355.10,129.06 L356.90,132.30 L353.30,132.30 Z" fill="#f4a62a"/>
<text x="361.90" y="133.30" font-size="6.6" textLength="24.30" lengthAdjust="spacingAndGlyphs">Bi CAR-T</text>
<text x="5.80" y="153.40" font-size="11" font-weight="bold">C</text>
<rect x="7.20" y="180.40" width="59.30" height="57.10" fill="#fff"/>
<path d="M20.70,209.50 L20.70,207.30 L20.79,206.92 L20.87,206.49 L20.95,205.99 L21.04,205.42 L21.12,204.77 L21.21,204.03 L21.29,203.20 L21.38,202.26 L21.46,201.21 L21.55,200.05 L21.63,198.77 L21.72,197.36 L21.80,195.82 L21.89,194.17 L21.97,192.42 L22.06,190.59 L22.14,188.71 L22.23,186.86 L22.31,185.15 L22.40,183.90 L22.48,185.15 L22.57,186.86 L22.65,188.71 L22.74,190.59 L22.82,192.42 L22.91,194.17 L22.99,195.82 L23.08,197.36 L23.16,198.77 L23.25,200.05 L23.33,201.21 L23.42,202.26 L23.50,203.20 L23.59,204.03 L23.67,204.77 L23.76,205.42 L23.84,205.99 L23.93,206.49 L24.01,206.92 L24.10,207.30 L24.10,209.50 Z" fill="#9a9a9a" stroke="#1a1a1a" stroke-width="0.55"/>
<path d="M20.53,209.50 L20.53,208.29 L20.62,208.08 L20.72,207.84 L20.81,207.57 L20.90,207.26 L21.00,206.90 L21.09,206.49 L21.18,206.03 L21.28,205.52 L21.37,204.94 L21.46,204.30 L21.56,203.60 L21.65,202.82 L21.75,201.98 L21.84,201.07 L21.93,200.11 L22.03,199.10 L22.12,198.07 L22.21,197.05 L22.31,196.11 L22.40,195.42 L22.49,196.11 L22.59,197.05 L22.68,198.07 L22.77,199.10 L22.87,200.11 L22.96,201.07 L23.05,201.98 L23.15,202.82 L23.24,203.60 L23.33,204.30 L23.43,204.94 L23.52,205.52 L23.62,206.03 L23.71,206.49 L23.80,206.90 L23.90,207.26 L23.99,207.57 L24.08,207.84 L24.18,208.08 L24.27,208.29 L24.27,209.50 Z" fill="#111"/>
<line x1="7.20" y1="209.50" x2="66.50" y2="209.50" stroke="#555" stroke-width="0.7"/>
<path d="M20.29,223.50 L20.29,222.80 L20.40,222.62 L20.50,222.39 L20.61,222.12 L20.71,221.79 L20.82,221.40 L20.92,220.93 L21.03,220.39 L21.14,219.75 L21.24,219.02 L21.35,218.18 L21.45,217.25 L21.56,216.22 L21.66,215.09 L21.77,213.88 L21.87,212.62 L21.98,211.34 L22.08,210.08 L22.19,208.92 L22.29,207.95 L22.40,207.40 L22.51,207.95 L22.61,208.92 L22.72,210.08 L22.82,211.34 L22.93,212.62 L23.03,213.88 L23.14,215.09 L23.24,216.22 L23.35,217.25 L23.45,218.18 L23.56,219.02 L23.66,219.75 L23.77,220.39 L23.88,220.93 L23.98,221.40 L24.09,221.79 L24.19,222.12 L24.30,222.39 L24.40,222.62 L24.51,222.80 L24.51,223.50 Z" fill="#1d4f82" stroke="#111" stroke-width="0.45"/>
<line x1="7.20" y1="223.50" x2="66.50" y2="223.50" stroke="#555" stroke-width="0.7"/>
<path d="M25.89,237.50 L25.89,237.35 L26.31,237.25 L26.74,237.09 L27.16,236.86 L27.59,236.53 L28.02,236.06 L28.44,235.41 L28.87,234.55 L29.29,233.43 L29.72,232.04 L30.14,230.35 L30.57,228.39 L31.00,226.17 L31.42,223.77 L31.85,221.29 L32.27,218.84 L32.70,216.56 L33.12,214.60 L33.55,213.08 L33.97,212.13 L34.40,211.80 L34.87,212.13 L35.34,213.08 L35.81,214.60 L36.28,216.56 L36.75,218.84 L37.22,221.29 L37.69,223.77 L38.16,226.17 L38.63,228.39 L39.10,230.35 L39.57,232.04 L40.04,233.43 L40.52,234.55 L40.99,235.41 L41.46,236.06 L41.93,236.53 L42.40,236.86 L42.87,237.09 L43.34,237.25 L43.81,237.35 L43.81,237.50 Z" fill="#cc1033" stroke="#5a0a14" stroke-width="0.4"/>
<rect x="7.20" y="180.40" width="59.30" height="57.10" fill="none" stroke="#1a1a1a" stroke-width="1.0"/>
<line x1="10.50" y1="237.50" x2="10.50" y2="240.50" stroke="#222" stroke-width="0.75"/>
<line x1="14.00" y1="237.50" x2="14.00" y2="240.50" stroke="#222" stroke-width="0.75"/>
<line x1="17.50" y1="237.50" x2="17.50" y2="240.50" stroke="#222" stroke-width="0.75"/>
<line x1="23.60" y1="237.50" x2="23.60" y2="240.50" stroke="#222" stroke-width="0.75"/>
<line x1="26.30" y1="237.50" x2="26.30" y2="240.50" stroke="#222" stroke-width="0.75"/>
<line x1="30.10" y1="237.50" x2="30.10" y2="240.50" stroke="#222" stroke-width="0.75"/>
<line x1="46.90" y1="237.50" x2="46.90" y2="240.50" stroke="#222" stroke-width="0.75"/>
<line x1="60.40" y1="237.50" x2="60.40" y2="240.50" stroke="#222" stroke-width="0.75"/>
<rect x="19.40" y="237.80" width="2.60" height="2.50" fill="#111"/>
<text x="45.80" y="188.00" font-size="6.0" textLength="19.20" lengthAdjust="spacingAndGlyphs">RS4;11</text>
<rect x="69.50" y="180.40" width="59.00" height="57.10" fill="#fff"/>
<path d="M82.10,209.50 L82.10,207.16 L82.19,206.76 L82.27,206.30 L82.36,205.77 L82.44,205.16 L82.52,204.47 L82.61,203.69 L82.69,202.80 L82.78,201.81 L82.86,200.70 L82.95,199.46 L83.03,198.09 L83.12,196.60 L83.20,194.97 L83.29,193.22 L83.38,191.35 L83.46,189.41 L83.55,187.42 L83.63,185.45 L83.72,183.63 L83.80,182.30 L83.88,183.63 L83.97,185.45 L84.05,187.42 L84.14,189.41 L84.22,191.35 L84.31,193.22 L84.39,194.97 L84.48,196.60 L84.56,198.09 L84.65,199.46 L84.73,200.70 L84.82,201.81 L84.91,202.80 L84.99,203.69 L85.08,204.47 L85.16,205.16 L85.24,205.77 L85.33,206.30 L85.41,206.76 L85.50,207.16 L85.50,209.50 Z" fill="#9a9a9a" stroke="#1a1a1a" stroke-width="0.55"/>
<path d="M81.93,209.50 L81.93,208.21 L82.02,207.99 L82.12,207.74 L82.21,207.45 L82.30,207.11 L82.40,206.74 L82.49,206.30 L82.58,205.82 L82.68,205.27 L82.77,204.66 L82.86,203.98 L82.96,203.23 L83.05,202.40 L83.15,201.51 L83.24,200.54 L83.33,199.52 L83.43,198.45 L83.52,197.35 L83.61,196.27 L83.71,195.27 L83.80,194.54 L83.89,195.27 L83.99,196.27 L84.08,197.35 L84.17,198.45 L84.27,199.52 L84.36,200.54 L84.45,201.51 L84.55,202.40 L84.64,203.23 L84.73,203.98 L84.83,204.66 L84.92,205.27 L85.02,205.82 L85.11,206.30 L85.20,206.74 L85.30,207.11 L85.39,207.45 L85.48,207.74 L85.58,207.99 L85.67,208.21 L85.67,209.50 Z" fill="#111"/>
<line x1="69.50" y1="209.50" x2="128.50" y2="209.50" stroke="#555" stroke-width="0.7"/>
<path d="M81.69,223.50 L81.69,222.88 L81.80,222.72 L81.90,222.52 L82.01,222.28 L82.11,221.99 L82.22,221.65 L82.32,221.24 L82.43,220.75 L82.54,220.19 L82.64,219.55 L82.75,218.81 L82.85,217.99 L82.96,217.07 L83.06,216.08 L83.17,215.02 L83.27,213.90 L83.38,212.77 L83.48,211.66 L83.59,210.64 L83.69,209.79 L83.80,209.30 L83.91,209.79 L84.01,210.64 L84.12,211.66 L84.22,212.77 L84.33,213.90 L84.43,215.02 L84.54,216.08 L84.64,217.07 L84.75,217.99 L84.85,218.81 L84.96,219.55 L85.06,220.19 L85.17,220.75 L85.28,221.24 L85.38,221.65 L85.49,221.99 L85.59,222.28 L85.70,222.52 L85.80,222.72 L85.91,222.88 L85.91,223.50 Z" fill="#1d4f82" stroke="#111" stroke-width="0.45"/>
<line x1="69.50" y1="223.50" x2="128.50" y2="223.50" stroke="#555" stroke-width="0.7"/>
<path d="M91.49,237.50 L91.49,237.34 L91.90,237.24 L92.31,237.08 L92.72,236.85 L93.13,236.51 L93.54,236.02 L93.95,235.36 L94.36,234.48 L94.78,233.34 L95.19,231.91 L95.60,230.19 L96.01,228.17 L96.42,225.91 L96.83,223.45 L97.24,220.91 L97.65,218.40 L98.06,216.07 L98.47,214.06 L98.88,212.51 L99.29,211.53 L99.70,211.20 L100.15,211.53 L100.61,212.51 L101.06,214.06 L101.51,216.07 L101.97,218.40 L102.42,220.91 L102.88,223.45 L103.33,225.91 L103.78,228.17 L104.24,230.19 L104.69,231.91 L105.14,233.34 L105.60,234.48 L106.05,235.36 L106.50,236.02 L106.96,236.51 L107.41,236.85 L107.86,237.08 L108.32,237.24 L108.77,237.34 L108.77,237.50 Z" fill="#cc1033" stroke="#5a0a14" stroke-width="0.4"/>
<rect x="69.50" y="180.40" width="59.00" height="57.10" fill="none" stroke="#1a1a1a" stroke-width="1.0"/>
<line x1="72.80" y1="237.50" x2="72.80" y2="240.50" stroke="#222" stroke-width="0.75"/>
<line x1="76.30" y1="237.50" x2="76.30" y2="240.50" stroke="#222" stroke-width="0.75"/>
<line x1="79.80" y1="237.50" x2="79.80" y2="240.50" stroke="#222" stroke-width="0.75"/>
<line x1="85.90" y1="237.50" x2="85.90" y2="240.50" stroke="#222" stroke-width="0.75"/>
<line x1="88.60" y1="237.50" x2="88.60" y2="240.50" stroke="#222" stroke-width="0.75"/>
<line x1="92.40" y1="237.50" x2="92.40" y2="240.50" stroke="#222" stroke-width="0.75"/>
<line x1="109.20" y1="237.50" x2="109.20" y2="240.50" stroke="#222" stroke-width="0.75"/>
<line x1="122.70" y1="237.50" x2="122.70" y2="240.50" stroke="#222" stroke-width="0.75"/>
<rect x="81.70" y="237.80" width="2.60" height="2.50" fill="#111"/>
<text x="106.20" y="188.00" font-size="6.0" textLength="20.80" lengthAdjust="spacingAndGlyphs">MV-411</text>
<rect x="131.90" y="180.40" width="59.60" height="57.10" fill="#fff"/>
<path d="M144.10,209.50 L144.10,207.22 L144.19,206.83 L144.27,206.38 L144.36,205.87 L144.44,205.28 L144.53,204.60 L144.61,203.84 L144.70,202.98 L144.78,202.01 L144.87,200.92 L144.95,199.72 L145.04,198.39 L145.12,196.93 L145.21,195.34 L145.29,193.64 L145.38,191.82 L145.46,189.92 L145.55,187.98 L145.63,186.07 L145.72,184.29 L145.80,183.00 L145.89,184.29 L145.97,186.07 L146.06,187.98 L146.14,189.92 L146.23,191.82 L146.31,193.64 L146.40,195.34 L146.48,196.93 L146.56,198.39 L146.65,199.72 L146.74,200.92 L146.82,202.01 L146.91,202.98 L146.99,203.84 L147.08,204.60 L147.16,205.28 L147.25,205.87 L147.33,206.38 L147.42,206.83 L147.50,207.22 L147.50,209.50 Z" fill="#9a9a9a" stroke="#1a1a1a" stroke-width="0.55"/>
<path d="M143.93,209.50 L143.93,208.25 L144.02,208.03 L144.12,207.79 L144.21,207.50 L144.30,207.18 L144.40,206.81 L144.49,206.39 L144.58,205.91 L144.68,205.38 L144.77,204.78 L144.87,204.12 L144.96,203.39 L145.05,202.59 L145.15,201.71 L145.24,200.77 L145.33,199.78 L145.43,198.73 L145.52,197.67 L145.61,196.61 L145.71,195.64 L145.80,194.93 L145.89,195.64 L145.99,196.61 L146.08,197.67 L146.17,198.73 L146.27,199.78 L146.36,200.77 L146.45,201.71 L146.55,202.59 L146.64,203.39 L146.74,204.12 L146.83,204.78 L146.92,205.38 L147.02,205.91 L147.11,206.39 L147.20,206.81 L147.30,207.18 L147.39,207.50 L147.48,207.79 L147.58,208.03 L147.67,208.25 L147.67,209.50 Z" fill="#111"/>
<line x1="131.90" y1="209.50" x2="191.50" y2="209.50" stroke="#555" stroke-width="0.7"/>
<path d="M143.69,223.50 L143.69,222.85 L143.80,222.68 L143.90,222.47 L144.01,222.22 L144.11,221.92 L144.22,221.55 L144.32,221.12 L144.43,220.62 L144.54,220.03 L144.64,219.35 L144.75,218.58 L144.85,217.72 L144.96,216.76 L145.06,215.71 L145.17,214.60 L145.27,213.43 L145.38,212.24 L145.48,211.08 L145.59,210.01 L145.69,209.11 L145.80,208.60 L145.91,209.11 L146.01,210.01 L146.12,211.08 L146.22,212.24 L146.33,213.43 L146.43,214.60 L146.54,215.71 L146.64,216.76 L146.75,217.72 L146.85,218.58 L146.96,219.35 L147.06,220.03 L147.17,220.62 L147.28,221.12 L147.38,221.55 L147.49,221.92 L147.59,222.22 L147.70,222.47 L147.80,222.68 L147.91,222.85 L147.91,223.50 Z" fill="#1d4f82" stroke="#111" stroke-width="0.45"/>
<line x1="131.90" y1="223.50" x2="191.50" y2="223.50" stroke="#555" stroke-width="0.7"/>
<path d="M149.24,237.50 L149.24,237.34 L149.49,237.24 L149.74,237.09 L149.98,236.86 L150.23,236.52 L150.48,236.04 L150.73,235.38 L150.98,234.51 L151.22,233.38 L151.47,231.97 L151.72,230.27 L151.97,228.28 L152.22,226.04 L152.46,223.61 L152.71,221.10 L152.96,218.62 L153.21,216.31 L153.46,214.33 L153.70,212.80 L153.95,211.83 L154.20,211.50 L154.45,211.83 L154.70,212.80 L154.94,214.33 L155.19,216.31 L155.44,218.62 L155.69,221.10 L155.94,223.61 L156.18,226.04 L156.43,228.28 L156.68,230.27 L156.93,231.97 L157.18,233.38 L157.42,234.51 L157.67,235.38 L157.92,236.04 L158.17,236.52 L158.42,236.86 L158.66,237.09 L158.91,237.24 L159.16,237.34 L159.16,237.50 Z" fill="#cc1033" stroke="#5a0a14" stroke-width="0.4"/>
<rect x="131.90" y="180.40" width="59.60" height="57.10" fill="none" stroke="#1a1a1a" stroke-width="1.0"/>
<line x1="135.20" y1="237.50" x2="135.20" y2="240.50" stroke="#222" stroke-width="0.75"/>
<line x1="138.70" y1="237.50" x2="138.70" y2="240.50" stroke="#222" stroke-width="0.75"/>
<line x1="142.20" y1="237.50" x2="142.20" y2="240.50" stroke="#222" stroke-width="0.75"/>
<line x1="148.30" y1="237.50" x2="148.30" y2="240.50" stroke="#222" stroke-width="0.75"/>
<line x1="151.00" y1="237.50" x2="151.00" y2="240.50" stroke="#222" stroke-width="0.75"/>
<line x1="154.80" y1="237.50" x2="154.80" y2="240.50" stroke="#222" stroke-width="0.75"/>
<line x1="171.60" y1="237.50" x2="171.60" y2="240.50" stroke="#222" stroke-width="0.75"/>
<line x1="185.10" y1="237.50" x2="185.10" y2="240.50" stroke="#222" stroke-width="0.75"/>
<rect x="144.10" y="237.80" width="2.60" height="2.50" fill="#111"/>
<text x="176.90" y="188.00" font-size="6.0" textLength="13.10" lengthAdjust="spacingAndGlyphs">SEM</text>
<text x="160.70" y="205.30" font-size="5.2" textLength="23.50" lengthAdjust="spacingAndGlyphs" fill="#333">Unstained</text>
<text x="160.70" y="220.30" font-size="5.2" textLength="36.30" lengthAdjust="spacingAndGlyphs" fill="#333">PE-Streptavidin</text>
<text x="159.20" y="228.40" font-size="5.2" textLength="29.60" lengthAdjust="spacingAndGlyphs" fill="#333">NKG2D-Fc +</text>
<text x="159.20" y="234.90" font-size="5.2" textLength="36.80" lengthAdjust="spacingAndGlyphs" fill="#333">PE-Streptavidin</text>
<text x="6.80" y="251.30" font-size="8.4" textLength="6.90" lengthAdjust="spacingAndGlyphs">PE</text>
<line x1="16.80" y1="248.60" x2="28.50" y2="248.60" stroke="#111" stroke-width="1.3"/>
<path d="M32.80,248.60 L26.40,245.90 L27.60,248.60 L26.40,251.30 Z" fill="#111"/>
<text x="213.40" y="153.00" font-size="11.4" font-weight="bold">D</text>
<line x1="242.00" y1="163.40" x2="242.00" y2="246.80" stroke="#231f20" stroke-width="1.0"/>
<line x1="239.90" y1="165.70" x2="242.00" y2="165.70" stroke="#231f20" stroke-width="0.9"/>
<text x="226.70" y="168.05" font-size="6.6" textLength="9.90" lengthAdjust="spacingAndGlyphs">100</text>
<line x1="239.90" y1="181.92" x2="242.00" y2="181.92" stroke="#231f20" stroke-width="0.9"/>
<text x="230.00" y="184.27" font-size="6.6" textLength="6.60" lengthAdjust="spacingAndGlyphs">80</text>
<line x1="239.90" y1="198.14" x2="242.00" y2="198.14" stroke="#231f20" stroke-width="0.9"/>
<text x="230.00" y="200.49" font-size="6.6" textLength="6.60" lengthAdjust="spacingAndGlyphs">60</text>
<line x1="239.90" y1="214.36" x2="242.00" y2="214.36" stroke="#231f20" stroke-width="0.9"/>
<text x="230.00" y="216.71" font-size="6.6" textLength="6.60" lengthAdjust="spacingAndGlyphs">40</text>
<line x1="239.90" y1="230.58" x2="242.00" y2="230.58" stroke="#231f20" stroke-width="0.9"/>
<text x="230.00" y="232.93" font-size="6.6" textLength="6.60" lengthAdjust="spacingAndGlyphs">20</text>
<line x1="239.90" y1="246.80" x2="242.00" y2="246.80" stroke="#231f20" stroke-width="0.9"/>
<text x="233.30" y="249.15" font-size="6.6" textLength="3.30" lengthAdjust="spacingAndGlyphs">0</text>
<line x1="242.00" y1="246.80" x2="313.10" y2="246.80" stroke="#231f20" stroke-width="1.0"/>
<line x1="250.00" y1="246.80" x2="250.00" y2="248.80" stroke="#231f20" stroke-width="1.0"/>
<line x1="261.40" y1="246.80" x2="261.40" y2="248.80" stroke="#231f20" stroke-width="1.0"/>
<line x1="272.30" y1="246.80" x2="272.30" y2="248.80" stroke="#231f20" stroke-width="1.0"/>
<line x1="283.40" y1="246.80" x2="283.40" y2="248.80" stroke="#231f20" stroke-width="1.0"/>
<line x1="294.70" y1="246.80" x2="294.70" y2="248.80" stroke="#231f20" stroke-width="1.0"/>
<line x1="305.60" y1="246.80" x2="305.60" y2="248.80" stroke="#231f20" stroke-width="1.0"/>
<text x="247.00" y="258.70" font-size="6.2" textLength="6.20" lengthAdjust="spacingAndGlyphs">20</text>
<text x="258.30" y="258.70" font-size="6.2" textLength="6.40" lengthAdjust="spacingAndGlyphs">10</text>
<text x="270.70" y="258.70" font-size="6.2" textLength="3.10" lengthAdjust="spacingAndGlyphs">5</text>
<text x="279.30" y="258.70" font-size="6.2" textLength="7.30" lengthAdjust="spacingAndGlyphs">2.5</text>
<text x="286.80" y="258.70" font-size="6.2" textLength="13.20" lengthAdjust="spacingAndGlyphs">1.25</text>
<text x="303.60" y="258.70" font-size="6.2" textLength="3.10" lengthAdjust="spacingAndGlyphs">0</text>
<text x="308.60" y="258.70" font-size="6.2" textLength="22.40" lengthAdjust="spacingAndGlyphs">mcg/ml</text>
<text x="260.10" y="270.30" font-size="8.5" textLength="34.70" lengthAdjust="spacingAndGlyphs">E:T ratio 1:1</text>
<text x="262.90" y="166.60" font-size="6.0" textLength="25.10" lengthAdjust="spacingAndGlyphs">SEM 24h</text>
<text transform="translate(219.80,204.50) rotate(-90)" x="0" y="0" font-size="7.7" text-anchor="middle" textLength="44.50" lengthAdjust="spacingAndGlyphs">Cytotoxicity (%)</text>
<polyline points="250.00,200.00 261.40,197.40 272.30,193.80 283.40,183.50 294.70,180.30 305.60,181.00" fill="none" stroke="#574a6c" stroke-width="1.0"/>
<polyline points="250.00,218.50 261.40,216.10 272.30,214.30 283.40,210.40 294.70,200.50 305.60,197.70" fill="none" stroke="#d24468" stroke-width="1.0"/>
<circle cx="250.00" cy="200.00" r="1.55" fill="#2c1a3c"/>
<circle cx="261.40" cy="197.40" r="1.55" fill="#2c1a3c"/>
<circle cx="272.30" cy="193.80" r="1.55" fill="#2c1a3c"/>
<circle cx="283.40" cy="183.50" r="1.55" fill="#2c1a3c"/>
<circle cx="294.70" cy="180.30" r="1.55" fill="#2c1a3c"/>
<circle cx="305.60" cy="181.00" r="1.55" fill="#2c1a3c"/>
<rect x="248.50" y="217.00" width="3.00" height="3.00" fill="#b8103c"/>
<rect x="259.90" y="214.60" width="3.00" height="3.00" fill="#b8103c"/>
<rect x="270.80" y="212.80" width="3.00" height="3.00" fill="#b8103c"/>
<rect x="281.90" y="208.90" width="3.00" height="3.00" fill="#b8103c"/>
<rect x="293.20" y="199.00" width="3.00" height="3.00" fill="#b8103c"/>
<rect x="304.10" y="196.20" width="3.00" height="3.00" fill="#b8103c"/>
<line x1="255.80" y1="228.50" x2="259.60" y2="228.50" stroke="#574a6c" stroke-width="0.8"/>
<circle cx="257.70" cy="228.50" r="1.50" fill="#2c1a3c"/>
<text x="263.70" y="230.60" font-size="6.4" textLength="36.30" lengthAdjust="spacingAndGlyphs">Bi CAR-iNKT</text>
<line x1="255.80" y1="236.30" x2="259.60" y2="236.30" stroke="#d24468" stroke-width="0.8"/>
<rect x="256.25" y="234.85" width="2.90" height="2.90" fill="#b8103c"/>
<text x="263.70" y="238.40" font-size="6.4" textLength="25.10" lengthAdjust="spacingAndGlyphs">Bi CAR-T</text>
<text x="342.40" y="153.60" font-size="11" font-weight="bold">E</text>
<text x="369.90" y="165.20" font-size="6.1" textLength="72.60" lengthAdjust="spacingAndGlyphs">CD19+CD133+ SEM cells</text>
<line x1="368.80" y1="169.50" x2="368.80" y2="249.00" stroke="#231f20" stroke-width="1.0"/>
<line x1="366.70" y1="172.10" x2="368.80" y2="172.10" stroke="#231f20" stroke-width="0.9"/>
<text x="352.60" y="174.45" font-size="6.6" textLength="9.90" lengthAdjust="spacingAndGlyphs">100</text>
<line x1="366.70" y1="187.48" x2="368.80" y2="187.48" stroke="#231f20" stroke-width="0.9"/>
<text x="355.90" y="189.83" font-size="6.6" textLength="6.60" lengthAdjust="spacingAndGlyphs">80</text>
<line x1="366.70" y1="202.86" x2="368.80" y2="202.86" stroke="#231f20" stroke-width="0.9"/>
<text x="355.90" y="205.21" font-size="6.6" textLength="6.60" lengthAdjust="spacingAndGlyphs">60</text>
<line x1="366.70" y1="218.24" x2="368.80" y2="218.24" stroke="#231f20" stroke-width="0.9"/>
<text x="355.90" y="220.59" font-size="6.6" textLength="6.60" lengthAdjust="spacingAndGlyphs">40</text>
<line x1="366.70" y1="233.62" x2="368.80" y2="233.62" stroke="#231f20" stroke-width="0.9"/>
<text x="355.90" y="235.97" font-size="6.6" textLength="6.60" lengthAdjust="spacingAndGlyphs">20</text>
<line x1="366.70" y1="249.00" x2="368.80" y2="249.00" stroke="#231f20" stroke-width="0.9"/>
<text x="359.20" y="251.35" font-size="6.6" textLength="3.30" lengthAdjust="spacingAndGlyphs">0</text>
<line x1="368.80" y1="249.00" x2="441.50" y2="249.00" stroke="#231f20" stroke-width="1.0"/>
<line x1="378.70" y1="249.00" x2="378.70" y2="251.00" stroke="#231f20" stroke-width="1.0"/>
<line x1="393.10" y1="249.00" x2="393.10" y2="251.00" stroke="#231f20" stroke-width="1.0"/>
<line x1="407.50" y1="249.00" x2="407.50" y2="251.00" stroke="#231f20" stroke-width="1.0"/>
<line x1="422.00" y1="249.00" x2="422.00" y2="251.00" stroke="#231f20" stroke-width="1.0"/>
<line x1="436.40" y1="249.00" x2="436.40" y2="251.00" stroke="#231f20" stroke-width="1.0"/>
<text x="378.70" y="260.60" font-size="6.4" text-anchor="middle">0.25</text>
<text x="393.10" y="260.60" font-size="6.4" text-anchor="middle">0.5</text>
<text x="407.50" y="260.60" font-size="6.4" text-anchor="middle">1</text>
<text x="422.00" y="260.60" font-size="6.4" text-anchor="middle">2</text>
<text x="436.40" y="260.60" font-size="6.4" text-anchor="middle">4</text>
<text x="395.50" y="272.30" font-size="8.6" textLength="24.20" lengthAdjust="spacingAndGlyphs">E:T ratio</text>
<text transform="translate(346.90,209.20) rotate(-90)" x="0" y="0" font-size="7.6" text-anchor="middle" textLength="45.00" lengthAdjust="spacingAndGlyphs">Cytotoxicity (%)</text>
<polyline points="378.70,244.70 393.10,238.80 407.50,234.20 422.00,227.40 436.40,218.60" fill="none" stroke="#f2a23c" stroke-width="1.0"/>
<polyline points="378.70,237.10 393.10,235.70 407.50,226.30 422.00,217.30 436.40,205.60" fill="none" stroke="#8d8dc4" stroke-width="1.0"/>
<polyline points="378.70,240.00 393.10,231.30 407.50,223.70 422.00,212.60 436.40,204.60" fill="none" stroke="#b81d45" stroke-width="1.0"/>
<polyline points="378.70,230.60 393.10,221.50 407.50,207.50 422.00,189.50 436.40,177.90" fill="none" stroke="#3b2160" stroke-width="1.0"/>
<path d="M378.70,243.08 L380.20,245.78 L377.20,245.78 Z" fill="#f2a23c"/>
<path d="M393.10,237.18 L394.60,239.88 L391.60,239.88 Z" fill="#f2a23c"/>
<path d="M407.50,232.58 L409.00,235.28 L406.00,235.28 Z" fill="#f2a23c"/>
<path d="M422.00,225.78 L423.50,228.48 L420.50,228.48 Z" fill="#f2a23c"/>
<path d="M436.40,216.98 L437.90,219.68 L434.90,219.68 Z" fill="#f2a23c"/>
<path d="M378.70,235.48 L380.20,238.18 L377.20,238.18 Z" fill="#8d8dc4"/>
<path d="M393.10,234.08 L394.60,236.78 L391.60,236.78 Z" fill="#8d8dc4"/>
<path d="M407.50,224.68 L409.00,227.38 L406.00,227.38 Z" fill="#8d8dc4"/>
<path d="M422.00,215.68 L423.50,218.38 L420.50,218.38 Z" fill="#8d8dc4"/>
<path d="M436.40,203.98 L437.90,206.68 L434.90,206.68 Z" fill="#8d8dc4"/>
<circle cx="378.70" cy="240.00" r="1.60" fill="#b81d45"/>
<circle cx="393.10" cy="231.30" r="1.60" fill="#b81d45"/>
<circle cx="407.50" cy="223.70" r="1.60" fill="#b81d45"/>
<circle cx="422.00" cy="212.60" r="1.60" fill="#b81d45"/>
<circle cx="436.40" cy="204.60" r="1.60" fill="#b81d45"/>
<rect x="377.20" y="229.10" width="3.00" height="3.00" fill="#3b2160"/>
<rect x="391.60" y="220.00" width="3.00" height="3.00" fill="#3b2160"/>
<rect x="406.00" y="206.00" width="3.00" height="3.00" fill="#3b2160"/>
<rect x="420.50" y="188.00" width="3.00" height="3.00" fill="#3b2160"/>
<rect x="434.90" y="176.40" width="3.00" height="3.00" fill="#3b2160"/>
<line x1="445.40" y1="185.80" x2="451.10" y2="185.80" stroke="#3b2160" stroke-width="1.0"/>
<rect x="446.65" y="184.25" width="3.10" height="3.10" fill="#3b2160"/>
<line x1="445.40" y1="198.10" x2="451.10" y2="198.10" stroke="#8d8dc4" stroke-width="1.0"/>
<path d="M448.20,196.43 L449.75,199.22 L446.65,199.22 Z" fill="#8d8dc4"/>
<line x1="445.40" y1="216.20" x2="451.10" y2="216.20" stroke="#b81d45" stroke-width="1.0"/>
<circle cx="448.20" cy="216.20" r="1.55" fill="#b81d45"/>
<line x1="445.40" y1="227.30" x2="451.10" y2="227.30" stroke="#f2a23c" stroke-width="1.0"/>
<path d="M448.20,225.63 L449.75,228.42 L446.65,228.42 Z" fill="#f2a23c"/>
<text x="454.60" y="187.90" font-size="6.4" textLength="43.60" lengthAdjust="spacingAndGlyphs">Bi CAR-iNKT Ig</text>
<text x="454.60" y="200.20" font-size="6.4" textLength="35.90" lengthAdjust="spacingAndGlyphs">Bi CAR-iNKT</text>
<text x="454.60" y="207.10" font-size="6.4" textLength="31.60" lengthAdjust="spacingAndGlyphs">NKG2D Ab</text>
<text x="454.60" y="218.30" font-size="6.4" textLength="32.80" lengthAdjust="spacingAndGlyphs">Bi CAR-T Ig</text>
<text x="454.60" y="229.40" font-size="6.4" textLength="25.10" lengthAdjust="spacingAndGlyphs">Bi CAR-T</text>
<text x="454.60" y="236.80" font-size="6.4" textLength="31.60" lengthAdjust="spacingAndGlyphs">NKG2D Ab</text>
<text x="6.30" y="294.00" font-size="11" font-weight="bold">F</text>
<text x="80.80" y="293.60" font-size="6.6" textLength="12.10" lengthAdjust="spacingAndGlyphs">SEM</text>
<line x1="35.50" y1="305.00" x2="35.50" y2="382.20" stroke="#231f20" stroke-width="1.0"/>
<line x1="32.90" y1="307.20" x2="35.50" y2="307.20" stroke="#231f20" stroke-width="0.9"/>
<text x="20.20" y="309.55" font-size="6.6" textLength="9.90" lengthAdjust="spacingAndGlyphs">100</text>
<line x1="32.90" y1="322.20" x2="35.50" y2="322.20" stroke="#231f20" stroke-width="0.9"/>
<text x="23.50" y="324.55" font-size="6.6" textLength="6.60" lengthAdjust="spacingAndGlyphs">80</text>
<line x1="32.90" y1="337.20" x2="35.50" y2="337.20" stroke="#231f20" stroke-width="0.9"/>
<text x="23.50" y="339.55" font-size="6.6" textLength="6.60" lengthAdjust="spacingAndGlyphs">60</text>
<line x1="32.90" y1="352.20" x2="35.50" y2="352.20" stroke="#231f20" stroke-width="0.9"/>
<text x="23.50" y="354.55" font-size="6.6" textLength="6.60" lengthAdjust="spacingAndGlyphs">40</text>
<line x1="32.90" y1="367.20" x2="35.50" y2="367.20" stroke="#231f20" stroke-width="0.9"/>
<text x="23.50" y="369.55" font-size="6.6" textLength="6.60" lengthAdjust="spacingAndGlyphs">20</text>
<line x1="32.90" y1="382.20" x2="35.50" y2="382.20" stroke="#231f20" stroke-width="0.9"/>
<text x="26.80" y="384.55" font-size="6.6" textLength="3.30" lengthAdjust="spacingAndGlyphs">0</text>
<line x1="35.50" y1="382.20" x2="135.50" y2="382.20" stroke="#231f20" stroke-width="1.0"/>
<line x1="40.80" y1="382.20" x2="40.80" y2="384.20" stroke="#231f20" stroke-width="1.0"/>
<line x1="50.80" y1="382.20" x2="50.80" y2="384.20" stroke="#231f20" stroke-width="1.0"/>
<line x1="61.00" y1="382.20" x2="61.00" y2="384.20" stroke="#231f20" stroke-width="1.0"/>
<line x1="71.10" y1="382.20" x2="71.10" y2="384.20" stroke="#231f20" stroke-width="1.0"/>
<line x1="81.50" y1="382.20" x2="81.50" y2="384.20" stroke="#231f20" stroke-width="1.0"/>
<line x1="92.00" y1="382.20" x2="92.00" y2="384.20" stroke="#231f20" stroke-width="1.0"/>
<line x1="102.10" y1="382.20" x2="102.10" y2="384.20" stroke="#231f20" stroke-width="1.0"/>
<line x1="112.20" y1="382.20" x2="112.20" y2="384.20" stroke="#231f20" stroke-width="1.0"/>
<line x1="122.60" y1="382.20" x2="122.60" y2="384.20" stroke="#231f20" stroke-width="1.0"/>
<line x1="132.70" y1="382.20" x2="132.70" y2="384.20" stroke="#231f20" stroke-width="1.0"/>
<text x="39.00" y="393.40" font-size="6.6" textLength="3.30" lengthAdjust="spacingAndGlyphs">0</text>
<text x="46.30" y="393.40" font-size="6.6" textLength="7.60" lengthAdjust="spacingAndGlyphs">0.1</text>
<text x="56.50" y="393.40" font-size="6.6" textLength="8.10" lengthAdjust="spacingAndGlyphs">0.2</text>
<text x="66.00" y="393.40" font-size="6.6" textLength="8.00" lengthAdjust="spacingAndGlyphs">0.3</text>
<text x="76.20" y="393.40" font-size="6.6" textLength="8.60" lengthAdjust="spacingAndGlyphs">0.6</text>
<text x="87.50" y="393.40" font-size="6.6" textLength="8.60" lengthAdjust="spacingAndGlyphs">1.2</text>
<text x="100.40" y="393.40" font-size="6.6" textLength="3.30" lengthAdjust="spacingAndGlyphs">3</text>
<text x="110.40" y="393.40" font-size="6.6" textLength="3.20" lengthAdjust="spacingAndGlyphs">6</text>
<text x="119.30" y="393.40" font-size="6.6" textLength="5.90" lengthAdjust="spacingAndGlyphs">12</text>
<text x="129.20" y="393.40" font-size="6.6" textLength="6.00" lengthAdjust="spacingAndGlyphs">25</text>
<text x="49.00" y="408.0" font-size="8.7" textLength="64.00" lengthAdjust="spacingAndGlyphs">Shear stress (dyn/cm<tspan font-size="5" dy="-3.2">2</tspan><tspan dy="3.2">)</tspan></text>
<text transform="translate(13.70,343.00) rotate(-90)" x="0" y="0" font-size="8.2" text-anchor="middle" textLength="75.40" lengthAdjust="spacingAndGlyphs">Bound CAR iNKT cells (%)</text>
<polyline points="40.80,309.80 50.80,328.80 61.00,342.00 71.10,348.30 81.50,352.10 92.00,356.30 102.10,357.00 112.20,357.00 122.60,357.00 132.70,357.00" fill="none" stroke="#f3a33a" stroke-width="1.0"/>
<polyline points="40.80,309.80 50.80,327.80 61.00,341.10 71.10,346.80 81.50,350.40 92.00,354.20 102.10,354.70 112.20,354.90 122.60,354.90 132.70,354.90" fill="none" stroke="#8b93d2" stroke-width="1.0"/>
<polyline points="40.80,309.80 50.80,326.70 61.00,339.80 71.10,345.30 81.50,348.90 92.00,351.70 102.10,352.10 112.20,352.10 122.60,352.50 132.70,352.50" fill="none" stroke="#c21d3c" stroke-width="1.0"/>
<polyline points="40.80,309.80 50.80,325.70 61.00,334.80 71.10,340.50 81.50,343.70 92.00,345.80 102.10,345.10 112.20,346.80 122.60,347.30 132.70,347.50" fill="none" stroke="#2b1f5e" stroke-width="1.0"/>
<path d="M40.80,308.23 L42.25,310.84 L39.35,310.84 Z" fill="#f3a33a"/>
<path d="M50.80,327.23 L52.25,329.84 L49.35,329.84 Z" fill="#f3a33a"/>
<path d="M61.00,340.43 L62.45,343.04 L59.55,343.04 Z" fill="#f3a33a"/>
<path d="M71.10,346.73 L72.55,349.34 L69.65,349.34 Z" fill="#f3a33a"/>
<path d="M81.50,350.53 L82.95,353.14 L80.05,353.14 Z" fill="#f3a33a"/>
<path d="M92.00,354.73 L93.45,357.34 L90.55,357.34 Z" fill="#f3a33a"/>
<path d="M102.10,355.43 L103.55,358.04 L100.65,358.04 Z" fill="#f3a33a"/>
<path d="M112.20,355.43 L113.65,358.04 L110.75,358.04 Z" fill="#f3a33a"/>
<path d="M122.60,355.43 L124.05,358.04 L121.15,358.04 Z" fill="#f3a33a"/>
<path d="M132.70,355.43 L134.15,358.04 L131.25,358.04 Z" fill="#f3a33a"/>
<path d="M40.80,308.23 L42.25,310.84 L39.35,310.84 Z" fill="#8b93d2"/>
<path d="M50.80,326.23 L52.25,328.84 L49.35,328.84 Z" fill="#8b93d2"/>
<path d="M61.00,339.53 L62.45,342.14 L59.55,342.14 Z" fill="#8b93d2"/>
<path d="M71.10,345.23 L72.55,347.84 L69.65,347.84 Z" fill="#8b93d2"/>
<path d="M81.50,348.83 L82.95,351.44 L80.05,351.44 Z" fill="#8b93d2"/>
<path d="M92.00,352.63 L93.45,355.24 L90.55,355.24 Z" fill="#8b93d2"/>
<path d="M102.10,353.13 L103.55,355.74 L100.65,355.74 Z" fill="#8b93d2"/>
<path d="M112.20,353.33 L113.65,355.94 L110.75,355.94 Z" fill="#8b93d2"/>
<path d="M122.60,353.33 L124.05,355.94 L121.15,355.94 Z" fill="#8b93d2"/>
<path d="M132.70,353.33 L134.15,355.94 L131.25,355.94 Z" fill="#8b93d2"/>
<path d="M40.80,311.37 L42.25,308.76 L39.35,308.76 Z" fill="#c21d3c"/>
<path d="M50.80,328.27 L52.25,325.66 L49.35,325.66 Z" fill="#c21d3c"/>
<path d="M61.00,341.37 L62.45,338.76 L59.55,338.76 Z" fill="#c21d3c"/>
<path d="M71.10,346.87 L72.55,344.26 L69.65,344.26 Z" fill="#c21d3c"/>
<path d="M81.50,350.47 L82.95,347.86 L80.05,347.86 Z" fill="#c21d3c"/>
<path d="M92.00,353.27 L93.45,350.66 L90.55,350.66 Z" fill="#c21d3c"/>
<path d="M102.10,353.67 L103.55,351.06 L100.65,351.06 Z" fill="#c21d3c"/>
<path d="M112.20,353.67 L113.65,351.06 L110.75,351.06 Z" fill="#c21d3c"/>
<path d="M122.60,354.07 L124.05,351.46 L121.15,351.46 Z" fill="#c21d3c"/>
<path d="M132.70,354.07 L134.15,351.46 L131.25,351.46 Z" fill="#c21d3c"/>
<path d="M40.80,308.23 L42.25,310.84 L39.35,310.84 Z" fill="#2b1f5e"/>
<path d="M50.80,324.13 L52.25,326.74 L49.35,326.74 Z" fill="#2b1f5e"/>
<path d="M61.00,333.23 L62.45,335.84 L59.55,335.84 Z" fill="#2b1f5e"/>
<path d="M71.10,338.93 L72.55,341.54 L69.65,341.54 Z" fill="#2b1f5e"/>
<path d="M81.50,342.13 L82.95,344.74 L80.05,344.74 Z" fill="#2b1f5e"/>
<path d="M92.00,344.23 L93.45,346.84 L90.55,346.84 Z" fill="#2b1f5e"/>
<path d="M102.10,343.53 L103.55,346.14 L100.65,346.14 Z" fill="#2b1f5e"/>
<path d="M112.20,345.23 L113.65,347.84 L110.75,347.84 Z" fill="#2b1f5e"/>
<path d="M122.60,345.73 L124.05,348.34 L121.15,348.34 Z" fill="#2b1f5e"/>
<path d="M132.70,345.93 L134.15,348.54 L131.25,348.54 Z" fill="#2b1f5e"/>
<line x1="40.20" y1="307.60" x2="40.20" y2="312.00" stroke="#333" stroke-width="0.6"/>
<line x1="38.80" y1="307.60" x2="41.60" y2="307.60" stroke="#333" stroke-width="0.6"/>
<line x1="38.80" y1="312.00" x2="41.60" y2="312.00" stroke="#333" stroke-width="0.6"/>
<line x1="78.40" y1="303.90" x2="83.20" y2="303.90" stroke="#2b1f5e" stroke-width="0.9"/>
<path d="M80.80,302.33 L82.25,304.94 L79.35,304.94 Z" fill="#2b1f5e"/>
<line x1="78.40" y1="310.40" x2="83.20" y2="310.40" stroke="#c21d3c" stroke-width="0.9"/>
<path d="M80.80,311.97 L82.25,309.36 L79.35,309.36 Z" fill="#c21d3c"/>
<line x1="78.40" y1="317.80" x2="83.20" y2="317.80" stroke="#8b93d2" stroke-width="0.9"/>
<path d="M80.80,316.23 L82.25,318.84 L79.35,318.84 Z" fill="#8b93d2"/>
<line x1="78.40" y1="330.10" x2="83.20" y2="330.10" stroke="#f3a33a" stroke-width="0.9"/>
<path d="M80.80,328.53 L82.25,331.14 L79.35,331.14 Z" fill="#f3a33a"/>
<text x="86.10" y="306.00" font-size="6.3" textLength="35.80" lengthAdjust="spacingAndGlyphs">Bi CAR iNKT</text>
<text x="86.10" y="312.50" font-size="6.3" textLength="25.50" lengthAdjust="spacingAndGlyphs">Bi CAR T</text>
<text x="86.10" y="319.90" font-size="6.3" textLength="39.70" lengthAdjust="spacingAndGlyphs">Bi CAR iNKT+</text>
<text x="86.00" y="326.30" font-size="6.3" textLength="32.40" lengthAdjust="spacingAndGlyphs">NKG2D Ab</text>
<text x="86.10" y="332.20" font-size="6.3" textLength="29.20" lengthAdjust="spacingAndGlyphs">Bi CAR T+</text>
<text x="86.00" y="338.90" font-size="6.3" textLength="32.40" lengthAdjust="spacingAndGlyphs">NKG2D Ab</text>
<path d="M123.3,301.9 L125.0,301.9 L125.0,311.9 L123.3,311.9" fill="none" stroke="#231f20" stroke-width="0.6"/>
<text x="128.80" y="310.60" font-size="8.0" text-anchor="middle">*</text>
<path d="M127.2,318.8 L129.6,318.8 L129.6,334.7 L127.2,334.7" fill="none" stroke="#231f20" stroke-width="0.6"/>
<text x="132.20" y="328.80" font-size="6.3" textLength="8.60" lengthAdjust="spacingAndGlyphs">NS</text>
<text x="150.00" y="293.20" font-size="11" font-weight="bold">G</text>
<text x="150.00" y="325.40" font-size="6.8" textLength="35.80" lengthAdjust="spacingAndGlyphs">Effector cells</text>
<rect x="150.20" y="330.60" width="144.90" height="45.60" fill="#fff" stroke="#6d817f" stroke-width="0.8"/>
<circle cx="167.30" cy="351.60" r="7.20" fill="#d3e3f1"/>
<circle cx="167.30" cy="351.60" r="6.19" fill="none" stroke="#bcd2e7" stroke-width="1.15"/>
<circle cx="167.30" cy="351.60" r="4.32" fill="url(#gT)"/>
<circle cx="199.40" cy="352.00" r="7.20" fill="#d3e3f1"/>
<circle cx="199.40" cy="352.00" r="6.19" fill="none" stroke="#bcd2e7" stroke-width="1.15"/>
<circle cx="199.40" cy="352.00" r="4.32" fill="url(#gT)"/>
<g transform="translate(195.10,343.00) rotate(-35)"><rect x="-2.25" y="-2.50" width="1.9" height="5.0" rx="0.9" fill="#b45666"/><rect x="0.35" y="-2.50" width="1.9" height="5.0" rx="0.9" fill="#b45666"/></g>
<g transform="translate(207.20,343.60) rotate(40)"><rect x="-2.25" y="-2.50" width="1.9" height="5.0" rx="0.9" fill="#32607a"/><rect x="0.35" y="-2.50" width="1.9" height="5.0" rx="0.9" fill="#32607a"/></g>
<circle cx="236.20" cy="351.20" r="7.00" fill="#d6eccb"/>
<circle cx="236.20" cy="351.20" r="6.02" fill="none" stroke="#c3e2b4" stroke-width="1.12"/>
<circle cx="236.20" cy="351.20" r="4.20" fill="url(#gN)"/>
<g transform="translate(248.20,351.30) scale(1.0)"><path d="M-3.2,0 L-0.8,0" stroke="#f1cfb0" stroke-width="1.4"/><path d="M1.9,-2.4 L-0.9,0 L1.9,2.4" fill="none" stroke="#e6b48c" stroke-width="2.0" stroke-linecap="round" stroke-linejoin="round"/><path d="M1.6,-1.9 L-0.4,0 L1.6,1.9" fill="none" stroke="#9a4e42" stroke-width="0.9" stroke-linecap="round"/></g>
<circle cx="272.80" cy="351.90" r="7.00" fill="#d6eccb"/>
<circle cx="272.80" cy="351.90" r="6.02" fill="none" stroke="#c3e2b4" stroke-width="1.12"/>
<circle cx="272.80" cy="351.90" r="4.20" fill="url(#gN)"/>
<g transform="translate(268.70,342.90) rotate(-35)"><rect x="-2.25" y="-2.50" width="1.9" height="5.0" rx="0.9" fill="#b45666"/><rect x="0.35" y="-2.50" width="1.9" height="5.0" rx="0.9" fill="#b45666"/></g>
<g transform="translate(281.10,343.90) rotate(40)"><rect x="-2.25" y="-2.50" width="1.9" height="5.0" rx="0.9" fill="#2a6070"/><rect x="0.35" y="-2.50" width="1.9" height="5.0" rx="0.9" fill="#2a6070"/></g>
<g transform="translate(285.00,351.70) scale(1.0)"><path d="M-3.2,0 L-0.8,0" stroke="#f1cfb0" stroke-width="1.4"/><path d="M1.9,-2.4 L-0.9,0 L1.9,2.4" fill="none" stroke="#e6b48c" stroke-width="2.0" stroke-linecap="round" stroke-linejoin="round"/><path d="M1.6,-1.9 L-0.4,0 L1.6,1.9" fill="none" stroke="#9a4e42" stroke-width="0.9" stroke-linecap="round"/></g>
<text x="168.30" y="337.80" font-size="5.6" textLength="25.30" lengthAdjust="spacingAndGlyphs">CD19 CAR</text>
<text x="203.80" y="337.80" font-size="5.6" textLength="29.40" lengthAdjust="spacingAndGlyphs">CD133 CAR</text>
<text x="178.60" y="355.00" font-size="5.6" textLength="7.50" lengthAdjust="spacingAndGlyphs">OR</text>
<text x="214.20" y="355.00" font-size="5.6" textLength="7.80" lengthAdjust="spacingAndGlyphs">OR</text>
<text x="253.30" y="355.00" font-size="5.6" textLength="7.00" lengthAdjust="spacingAndGlyphs">OR</text>
<text x="241.30" y="345.20" font-size="5.6" textLength="18.40" lengthAdjust="spacingAndGlyphs">NKG2D</text>
<text x="160.40" y="367.00" font-size="5.6" textLength="14.30" lengthAdjust="spacingAndGlyphs">T cells</text>
<text x="185.10" y="367.00" font-size="5.6" textLength="31.70" lengthAdjust="spacingAndGlyphs">CD19/CD133</text>
<text x="188.30" y="372.90" font-size="5.6" textLength="26.80" lengthAdjust="spacingAndGlyphs">CAR-T cells</text>
<text x="226.70" y="367.00" font-size="5.6" textLength="22.50" lengthAdjust="spacingAndGlyphs">iNKT cells</text>
<text x="258.70" y="367.00" font-size="5.6" textLength="32.90" lengthAdjust="spacingAndGlyphs">CD19/CD133</text>
<text x="257.50" y="372.90" font-size="5.6" textLength="36.40" lengthAdjust="spacingAndGlyphs">CAR-iNKT cells</text>
<line x1="293.80" y1="352.60" x2="301.30" y2="352.60" stroke="#6b1f4f" stroke-width="2.7"/>
<path d="M304.80,352.60 L300.40,349.20 L300.40,356.00 Z" fill="#6b1f4f"/>
<text x="383.20" y="311.40" font-size="7.9" textLength="53.30" lengthAdjust="spacingAndGlyphs">Before culture</text>
<line x1="337.40" y1="319.60" x2="337.40" y2="389.40" stroke="#231f20" stroke-width="1.0"/>
<line x1="334.20" y1="321.50" x2="337.40" y2="321.50" stroke="#231f20" stroke-width="0.9"/>
<text x="321.80" y="323.85" font-size="6.6" textLength="9.90" lengthAdjust="spacingAndGlyphs">100</text>
<line x1="334.20" y1="335.08" x2="337.40" y2="335.08" stroke="#231f20" stroke-width="0.9"/>
<text x="325.10" y="337.43" font-size="6.6" textLength="6.60" lengthAdjust="spacingAndGlyphs">80</text>
<line x1="334.20" y1="348.66" x2="337.40" y2="348.66" stroke="#231f20" stroke-width="0.9"/>
<text x="325.10" y="351.01" font-size="6.6" textLength="6.60" lengthAdjust="spacingAndGlyphs">60</text>
<line x1="334.20" y1="362.24" x2="337.40" y2="362.24" stroke="#231f20" stroke-width="0.9"/>
<text x="325.10" y="364.59" font-size="6.6" textLength="6.60" lengthAdjust="spacingAndGlyphs">40</text>
<line x1="334.20" y1="375.82" x2="337.40" y2="375.82" stroke="#231f20" stroke-width="0.9"/>
<text x="325.10" y="378.17" font-size="6.6" textLength="6.60" lengthAdjust="spacingAndGlyphs">20</text>
<line x1="334.20" y1="389.40" x2="337.40" y2="389.40" stroke="#231f20" stroke-width="0.9"/>
<text x="328.40" y="391.75" font-size="6.6" textLength="3.30" lengthAdjust="spacingAndGlyphs">0</text>
<line x1="337.40" y1="389.40" x2="408.50" y2="389.40" stroke="#231f20" stroke-width="1.1"/>
<text transform="translate(316.10,354.30) rotate(-90)" x="0" y="0" font-size="8.0" text-anchor="middle" textLength="49.40" lengthAdjust="spacingAndGlyphs">% NKG2D+ cells</text>
<line x1="348.50" y1="383.30" x2="348.50" y2="389.00" stroke="#777" stroke-width="0.5"/>
<line x1="346.00" y1="386.50" x2="351.00" y2="386.50" stroke="#777" stroke-width="0.5"/>
<line x1="347.30" y1="383.30" x2="349.70" y2="383.30" stroke="#777" stroke-width="0.5"/>
<line x1="347.30" y1="389.00" x2="349.70" y2="389.00" stroke="#777" stroke-width="0.5"/>
<rect x="343.40" y="381.90" width="2.80" height="2.80" fill="#f6a21e"/>
<rect x="343.40" y="384.50" width="2.80" height="2.80" fill="#f6a21e"/>
<rect x="343.40" y="387.20" width="2.80" height="2.80" fill="#f6a21e"/>
<rect x="350.60" y="385.50" width="2.80" height="2.80" fill="#f6a21e"/>
<path d="M361.70,385.58 L363.20,388.28 L360.20,388.28 Z" fill="#c8163c"/>
<path d="M364.60,385.58 L366.10,388.28 L363.10,388.28 Z" fill="#c8163c"/>
<path d="M367.50,385.58 L369.00,388.28 L366.00,388.28 Z" fill="#c8163c"/>
<path d="M369.30,385.58 L370.80,388.28 L367.80,388.28 Z" fill="#c8163c"/>
<line x1="381.60" y1="349.00" x2="381.60" y2="355.00" stroke="#9a9ac8" stroke-width="0.5"/>
<line x1="378.40" y1="352.30" x2="384.80" y2="352.30" stroke="#9a9ac8" stroke-width="0.5"/>
<line x1="380.40" y1="349.00" x2="382.80" y2="349.00" stroke="#9a9ac8" stroke-width="0.5"/>
<line x1="380.40" y1="355.00" x2="382.80" y2="355.00" stroke="#9a9ac8" stroke-width="0.5"/>
<path d="M378.00,350.62 L379.50,347.92 L376.50,347.92 Z" fill="#7f85c2"/>
<path d="M378.00,356.02 L379.50,353.32 L376.50,353.32 Z" fill="#7f85c2"/>
<path d="M385.20,353.92 L386.70,351.22 L383.70,351.22 Z" fill="#7f85c2"/>
<line x1="398.00" y1="351.00" x2="398.00" y2="356.00" stroke="#555" stroke-width="0.5"/>
<line x1="394.50" y1="353.60" x2="401.50" y2="353.60" stroke="#555" stroke-width="0.5"/>
<line x1="396.80" y1="351.00" x2="399.20" y2="351.00" stroke="#555" stroke-width="0.5"/>
<line x1="396.80" y1="356.00" x2="399.20" y2="356.00" stroke="#555" stroke-width="0.5"/>
<circle cx="394.20" cy="351.50" r="1.40" fill="#241838"/>
<circle cx="394.20" cy="355.60" r="1.40" fill="#241838"/>
<circle cx="402.10" cy="353.70" r="1.40" fill="#241838"/>
<line x1="444.70" y1="317.40" x2="444.70" y2="389.40" stroke="#231f20" stroke-width="1.0"/>
<line x1="441.70" y1="319.70" x2="444.70" y2="319.70" stroke="#231f20" stroke-width="0.9"/>
<text x="425.30" y="322.05" font-size="6.6" textLength="13.20" lengthAdjust="spacingAndGlyphs">2500</text>
<line x1="441.70" y1="333.64" x2="444.70" y2="333.64" stroke="#231f20" stroke-width="0.9"/>
<text x="425.30" y="335.99" font-size="6.6" textLength="13.20" lengthAdjust="spacingAndGlyphs">2000</text>
<line x1="441.70" y1="347.58" x2="444.70" y2="347.58" stroke="#231f20" stroke-width="0.9"/>
<text x="425.30" y="349.93" font-size="6.6" textLength="13.20" lengthAdjust="spacingAndGlyphs">1500</text>
<line x1="441.70" y1="361.52" x2="444.70" y2="361.52" stroke="#231f20" stroke-width="0.9"/>
<text x="425.30" y="363.87" font-size="6.6" textLength="13.20" lengthAdjust="spacingAndGlyphs">1000</text>
<line x1="441.70" y1="375.46" x2="444.70" y2="375.46" stroke="#231f20" stroke-width="0.9"/>
<text x="428.60" y="377.81" font-size="6.6" textLength="9.90" lengthAdjust="spacingAndGlyphs">500</text>
<line x1="441.70" y1="389.40" x2="444.70" y2="389.40" stroke="#231f20" stroke-width="0.9"/>
<text x="435.20" y="391.75" font-size="6.6" textLength="3.30" lengthAdjust="spacingAndGlyphs">0</text>
<line x1="444.70" y1="389.40" x2="513.20" y2="389.40" stroke="#231f20" stroke-width="1.1"/>
<line x1="478.70" y1="389.40" x2="478.70" y2="391.00" stroke="#231f20" stroke-width="1.1"/>
<text transform="translate(419.60,352.80) rotate(-90)" x="0" y="0" font-size="8.0" text-anchor="middle" textLength="61.90" lengthAdjust="spacingAndGlyphs">MFI of NKG2D+ cells</text>
<ellipse cx="454.6" cy="389.4" rx="5.2" ry="1.6" fill="#f6a21e"/>
<path d="M466.50,387.38 L468.00,390.08 L465.00,390.08 Z" fill="#c8163c"/>
<path d="M469.50,387.38 L471.00,390.08 L468.00,390.08 Z" fill="#c8163c"/>
<path d="M472.50,387.38 L474.00,390.08 L471.00,390.08 Z" fill="#c8163c"/>
<path d="M475.20,387.38 L476.70,390.08 L473.70,390.08 Z" fill="#c8163c"/>
<line x1="486.90" y1="323.80" x2="486.90" y2="340.10" stroke="#9a9ac8" stroke-width="0.5"/>
<line x1="482.30" y1="332.50" x2="491.50" y2="332.50" stroke="#9a9ac8" stroke-width="0.5"/>
<line x1="485.10" y1="323.80" x2="488.70" y2="323.80" stroke="#9a9ac8" stroke-width="0.5"/>
<line x1="485.10" y1="340.10" x2="488.70" y2="340.10" stroke="#9a9ac8" stroke-width="0.5"/>
<path d="M486.90,325.53 L488.50,322.65 L485.30,322.65 Z" fill="#7f85c2"/>
<path d="M486.90,334.23 L488.50,331.35 L485.30,331.35 Z" fill="#7f85c2"/>
<path d="M486.90,341.83 L488.50,338.95 L485.30,338.95 Z" fill="#7f85c2"/>
<line x1="503.00" y1="326.50" x2="503.00" y2="334.30" stroke="#444" stroke-width="0.5"/>
<line x1="498.00" y1="328.80" x2="508.00" y2="328.80" stroke="#444" stroke-width="0.5"/>
<line x1="501.40" y1="326.50" x2="504.60" y2="326.50" stroke="#444" stroke-width="0.5"/>
<line x1="501.40" y1="334.30" x2="504.60" y2="334.30" stroke="#444" stroke-width="0.5"/>
<circle cx="499.10" cy="326.70" r="1.45" fill="#241838"/>
<circle cx="506.70" cy="328.80" r="1.45" fill="#241838"/>
<circle cx="503.00" cy="334.30" r="1.45" fill="#241838"/>
<rect x="448.30" y="354.00" width="3.20" height="3.20" fill="#f6a21e"/>
<path d="M449.90,360.86 L451.60,363.92 L448.20,363.92 Z" fill="#c8163c"/>
<path d="M449.90,371.04 L451.60,367.98 L448.20,367.98 Z" fill="#7f85c2"/>
<circle cx="449.90" cy="375.70" r="1.50" fill="#241838"/>
<text x="455.80" y="357.40" font-size="6.2" textLength="3.20" lengthAdjust="spacingAndGlyphs">T</text>
<text x="455.90" y="363.90" font-size="6.2" textLength="25.10" lengthAdjust="spacingAndGlyphs">Bi CAR-T</text>
<text x="457.50" y="370.90" font-size="6.2" textLength="13.20" lengthAdjust="spacingAndGlyphs">iNKT</text>
<text x="455.90" y="377.70" font-size="6.2" textLength="35.40" lengthAdjust="spacingAndGlyphs">Bi CAR-iNKT</text>
<text x="7.40" y="429.30" font-size="11" font-weight="bold">H</text>
<text x="7.80" y="440.60" font-size="6.8" textLength="36.30" lengthAdjust="spacingAndGlyphs">Effector cells</text>
<rect x="7.80" y="445.80" width="144.90" height="45.60" fill="#fff" stroke="#6d817f" stroke-width="0.8"/>
<circle cx="24.90" cy="466.80" r="7.20" fill="#d3e3f1"/>
<circle cx="24.90" cy="466.80" r="6.19" fill="none" stroke="#bcd2e7" stroke-width="1.15"/>
<circle cx="24.90" cy="466.80" r="4.32" fill="url(#gT)"/>
<circle cx="57.00" cy="467.20" r="7.20" fill="#d3e3f1"/>
<circle cx="57.00" cy="467.20" r="6.19" fill="none" stroke="#bcd2e7" stroke-width="1.15"/>
<circle cx="57.00" cy="467.20" r="4.32" fill="url(#gT)"/>
<g transform="translate(52.70,458.20) rotate(-35)"><rect x="-2.25" y="-2.50" width="1.9" height="5.0" rx="0.9" fill="#b45666"/><rect x="0.35" y="-2.50" width="1.9" height="5.0" rx="0.9" fill="#b45666"/></g>
<g transform="translate(64.80,458.80) rotate(40)"><rect x="-2.25" y="-2.50" width="1.9" height="5.0" rx="0.9" fill="#32607a"/><rect x="0.35" y="-2.50" width="1.9" height="5.0" rx="0.9" fill="#32607a"/></g>
<circle cx="93.80" cy="466.40" r="7.00" fill="#d6eccb"/>
<circle cx="93.80" cy="466.40" r="6.02" fill="none" stroke="#c3e2b4" stroke-width="1.12"/>
<circle cx="93.80" cy="466.40" r="4.20" fill="url(#gN)"/>
<g transform="translate(105.80,466.50) scale(1.0)"><path d="M-3.2,0 L-0.8,0" stroke="#f1cfb0" stroke-width="1.4"/><path d="M1.9,-2.4 L-0.9,0 L1.9,2.4" fill="none" stroke="#e6b48c" stroke-width="2.0" stroke-linecap="round" stroke-linejoin="round"/><path d="M1.6,-1.9 L-0.4,0 L1.6,1.9" fill="none" stroke="#9a4e42" stroke-width="0.9" stroke-linecap="round"/></g>
<circle cx="130.40" cy="467.10" r="7.00" fill="#d6eccb"/>
<circle cx="130.40" cy="467.10" r="6.02" fill="none" stroke="#c3e2b4" stroke-width="1.12"/>
<circle cx="130.40" cy="467.10" r="4.20" fill="url(#gN)"/>
<g transform="translate(126.30,458.10) rotate(-35)"><rect x="-2.25" y="-2.50" width="1.9" height="5.0" rx="0.9" fill="#b45666"/><rect x="0.35" y="-2.50" width="1.9" height="5.0" rx="0.9" fill="#b45666"/></g>
<g transform="translate(138.70,459.10) rotate(40)"><rect x="-2.25" y="-2.50" width="1.9" height="5.0" rx="0.9" fill="#2a6070"/><rect x="0.35" y="-2.50" width="1.9" height="5.0" rx="0.9" fill="#2a6070"/></g>
<g transform="translate(142.60,466.90) scale(1.0)"><path d="M-3.2,0 L-0.8,0" stroke="#f1cfb0" stroke-width="1.4"/><path d="M1.9,-2.4 L-0.9,0 L1.9,2.4" fill="none" stroke="#e6b48c" stroke-width="2.0" stroke-linecap="round" stroke-linejoin="round"/><path d="M1.6,-1.9 L-0.4,0 L1.6,1.9" fill="none" stroke="#9a4e42" stroke-width="0.9" stroke-linecap="round"/></g>
<text x="25.90" y="453.00" font-size="5.6" textLength="25.30" lengthAdjust="spacingAndGlyphs">CD19 CAR</text>
<text x="61.40" y="453.00" font-size="5.6" textLength="29.40" lengthAdjust="spacingAndGlyphs">CD133 CAR</text>
<text x="36.20" y="470.20" font-size="5.6" textLength="7.50" lengthAdjust="spacingAndGlyphs">OR</text>
<text x="71.80" y="470.20" font-size="5.6" textLength="7.80" lengthAdjust="spacingAndGlyphs">OR</text>
<text x="110.90" y="470.20" font-size="5.6" textLength="7.00" lengthAdjust="spacingAndGlyphs">OR</text>
<text x="98.90" y="460.40" font-size="5.6" textLength="18.40" lengthAdjust="spacingAndGlyphs">NKG2D</text>
<text x="18.00" y="482.20" font-size="5.6" textLength="14.30" lengthAdjust="spacingAndGlyphs">T cells</text>
<text x="42.70" y="482.20" font-size="5.6" textLength="31.70" lengthAdjust="spacingAndGlyphs">CD19/CD133</text>
<text x="45.90" y="488.10" font-size="5.6" textLength="26.80" lengthAdjust="spacingAndGlyphs">CAR-T cells</text>
<text x="84.30" y="482.20" font-size="5.6" textLength="22.50" lengthAdjust="spacingAndGlyphs">iNKT cells</text>
<text x="116.30" y="482.20" font-size="5.6" textLength="32.90" lengthAdjust="spacingAndGlyphs">CD19/CD133</text>
<text x="115.10" y="488.10" font-size="5.6" textLength="36.40" lengthAdjust="spacingAndGlyphs">CAR-iNKT cells</text>
<text x="70.90" y="501.00" font-size="5.5" text-anchor="middle">+</text>
<text x="6.90" y="508.60" font-size="5.2" textLength="60.90" lengthAdjust="spacingAndGlyphs">Target cells (CTV labelled)</text>
<rect x="75.00" y="504.20" width="2.20" height="5.60" fill="#4f6790" rx="0.6"/>
<line x1="137.80" y1="502.50" x2="146.40" y2="502.50" stroke="#6b1f4f" stroke-width="2.7"/>
<path d="M149.90,502.50 L145.50,499.10 L145.50,505.90 Z" fill="#6b1f4f"/>
<rect x="7.80" y="513.50" width="146.60" height="44.00" fill="#fff" stroke="#6d817f" stroke-width="0.8"/>
<text x="8.30" y="519.50" font-size="5.0" textLength="13.30" lengthAdjust="spacingAndGlyphs">CD19</text>
<text x="29.40" y="519.50" font-size="5.0" textLength="16.40" lengthAdjust="spacingAndGlyphs">CD133</text>
<path d="M31.74,533.49 L30.07,536.06 L28.32,538.57 L25.32,539.20 L22.31,539.74 L19.74,538.07 L17.23,536.32 L16.60,533.32 L16.06,530.31 L17.73,527.74 L19.48,525.23 L22.48,524.60 L25.49,524.06 L28.06,525.73 L30.57,527.48 L31.20,530.48 Z" fill="url(#gS)" stroke="#d9d5ef" stroke-width="0.6" stroke-linejoin="round"/>
<rect x="21.02" y="529.02" width="5.76" height="5.76" fill="#b2a9da" rx="1.0" opacity="0.85" filter="url(#bl2)"/>
<path d="M64.54,533.49 L62.87,536.06 L61.12,538.57 L58.12,539.20 L55.11,539.74 L52.54,538.07 L50.03,536.32 L49.40,533.32 L48.86,530.31 L50.53,527.74 L52.28,525.23 L55.28,524.60 L58.29,524.06 L60.86,525.73 L63.37,527.48 L64.00,530.48 Z" fill="url(#gS)" stroke="#d9d5ef" stroke-width="0.6" stroke-linejoin="round"/>
<rect x="53.82" y="529.02" width="5.76" height="5.76" fill="#b2a9da" rx="1.0" opacity="0.85" filter="url(#bl2)"/>
<path d="M102.04,533.49 L100.37,536.06 L98.62,538.57 L95.62,539.20 L92.61,539.74 L90.04,538.07 L87.53,536.32 L86.90,533.32 L86.36,530.31 L88.03,527.74 L89.78,525.23 L92.78,524.60 L95.79,524.06 L98.36,525.73 L100.87,527.48 L101.50,530.48 Z" fill="url(#gS)" stroke="#d9d5ef" stroke-width="0.6" stroke-linejoin="round"/>
<rect x="91.32" y="529.02" width="5.76" height="5.76" fill="#b2a9da" rx="1.0" opacity="0.85" filter="url(#bl2)"/>
<path d="M139.24,533.49 L137.57,536.06 L135.82,538.57 L132.82,539.20 L129.81,539.74 L127.24,538.07 L124.73,536.32 L124.10,533.32 L123.56,530.31 L125.23,527.74 L126.98,525.23 L129.98,524.60 L132.99,524.06 L135.56,525.73 L138.07,527.48 L138.70,530.48 Z" fill="url(#gS)" stroke="#d9d5ef" stroke-width="0.6" stroke-linejoin="round"/>
<rect x="128.52" y="529.02" width="5.76" height="5.76" fill="#b2a9da" rx="1.0" opacity="0.85" filter="url(#bl2)"/>
<line x1="19.00" y1="526.50" x2="14.40" y2="522.30" stroke="#555" stroke-width="0.6"/>
<circle cx="14.40" cy="522.30" r="1.20" fill="#4a6aa8"/>
<line x1="28.50" y1="526.00" x2="32.00" y2="522.30" stroke="#555" stroke-width="0.6"/>
<circle cx="32.00" cy="522.30" r="1.20" fill="#3a0a10"/>
<line x1="61.20" y1="526.00" x2="64.90" y2="522.30" stroke="#555" stroke-width="0.6"/>
<circle cx="64.90" cy="522.30" r="1.20" fill="#7a1018"/>
<line x1="89.50" y1="526.50" x2="85.20" y2="522.30" stroke="#555" stroke-width="0.6"/>
<circle cx="85.20" cy="522.30" r="1.20" fill="#4a6aa8"/>
<text x="37.20" y="533.70" font-size="5.0" textLength="8.10" lengthAdjust="spacingAndGlyphs">OR</text>
<text x="72.70" y="533.70" font-size="5.0" textLength="8.30" lengthAdjust="spacingAndGlyphs">OR</text>
<text x="111.50" y="533.70" font-size="5.0" textLength="7.30" lengthAdjust="spacingAndGlyphs">OR</text>
<text x="23.50" y="547.50" font-size="5.0" text-anchor="middle" textLength="11.00" lengthAdjust="spacingAndGlyphs">SEM</text>
<text x="57.10" y="547.50" font-size="5.0" text-anchor="middle" textLength="11.00" lengthAdjust="spacingAndGlyphs">SEM</text>
<text x="92.50" y="547.50" font-size="5.0" text-anchor="middle" textLength="11.00" lengthAdjust="spacingAndGlyphs">SEM</text>
<text x="131.40" y="547.50" font-size="5.0" text-anchor="middle" textLength="11.00" lengthAdjust="spacingAndGlyphs">SEM</text>
<text x="18.60" y="553.10" font-size="5.0" textLength="10.00" lengthAdjust="spacingAndGlyphs">WT</text>
<text x="46.40" y="553.10" font-size="5.0" textLength="21.40" lengthAdjust="spacingAndGlyphs">CD19 KO</text>
<text x="80.40" y="553.10" font-size="5.0" textLength="25.60" lengthAdjust="spacingAndGlyphs">CD133 KO</text>
<text x="111.90" y="553.10" font-size="5.0" textLength="40.80" lengthAdjust="spacingAndGlyphs">CD19/CD133 KO</text>
<text x="203.50" y="457.20" font-size="7.2" textLength="201.70" lengthAdjust="spacingAndGlyphs">After culture with parental and gene-edited SEM cells</text>
<line x1="190.40" y1="463.70" x2="190.40" y2="524.90" stroke="#231f20" stroke-width="1.0"/>
<line x1="188.30" y1="466.00" x2="190.40" y2="466.00" stroke="#231f20" stroke-width="0.9"/>
<text x="174.50" y="468.35" font-size="6.6" textLength="9.90" lengthAdjust="spacingAndGlyphs">100</text>
<line x1="188.30" y1="477.78" x2="190.40" y2="477.78" stroke="#231f20" stroke-width="0.9"/>
<text x="177.80" y="480.13" font-size="6.6" textLength="6.60" lengthAdjust="spacingAndGlyphs">80</text>
<line x1="188.30" y1="489.56" x2="190.40" y2="489.56" stroke="#231f20" stroke-width="0.9"/>
<text x="177.80" y="491.91" font-size="6.6" textLength="6.60" lengthAdjust="spacingAndGlyphs">60</text>
<line x1="188.30" y1="501.34" x2="190.40" y2="501.34" stroke="#231f20" stroke-width="0.9"/>
<text x="177.80" y="503.69" font-size="6.6" textLength="6.60" lengthAdjust="spacingAndGlyphs">40</text>
<line x1="188.30" y1="513.12" x2="190.40" y2="513.12" stroke="#231f20" stroke-width="0.9"/>
<text x="177.80" y="515.47" font-size="6.6" textLength="6.60" lengthAdjust="spacingAndGlyphs">20</text>
<line x1="188.30" y1="524.90" x2="190.40" y2="524.90" stroke="#231f20" stroke-width="0.9"/>
<text x="181.10" y="527.25" font-size="6.6" textLength="3.30" lengthAdjust="spacingAndGlyphs">0</text>
<line x1="190.40" y1="524.90" x2="280.60" y2="524.90" stroke="#231f20" stroke-width="1.0"/>
<line x1="200.40" y1="524.90" x2="200.40" y2="526.70" stroke="#231f20" stroke-width="1.0"/>
<line x1="224.20" y1="524.90" x2="224.20" y2="526.70" stroke="#231f20" stroke-width="1.0"/>
<line x1="247.50" y1="524.90" x2="247.50" y2="526.70" stroke="#231f20" stroke-width="1.0"/>
<line x1="271.70" y1="524.90" x2="271.70" y2="526.70" stroke="#231f20" stroke-width="1.0"/>
<line x1="208.70" y1="464.50" x2="208.70" y2="524.90" stroke="#4a4a5a" stroke-width="0.9" stroke-dasharray="1.1,1.0"/>
<line x1="233.00" y1="464.50" x2="233.00" y2="524.90" stroke="#4a4a5a" stroke-width="0.9" stroke-dasharray="1.1,1.0"/>
<line x1="257.40" y1="464.50" x2="257.40" y2="524.90" stroke="#4a4a5a" stroke-width="0.9" stroke-dasharray="1.1,1.0"/>
<text transform="translate(168.90,493.80) rotate(-90)" x="0" y="0" font-size="8.0" text-anchor="middle" textLength="49.70" lengthAdjust="spacingAndGlyphs">% NKG2D+ cells</text>
<rect x="191.45" y="522.96" width="2.70" height="2.70" fill="#f6a21e"/>
<rect x="191.45" y="521.19" width="2.70" height="2.70" fill="#f6a21e"/>
<rect x="191.45" y="519.43" width="2.70" height="2.70" fill="#f6a21e"/>
<rect x="191.45" y="518.25" width="2.70" height="2.70" fill="#f6a21e"/>
<path d="M198.00,487.94 L199.50,490.64 L196.50,490.64 Z" fill="#c8163c"/>
<path d="M198.00,486.17 L199.50,488.87 L196.50,488.87 Z" fill="#c8163c"/>
<path d="M198.00,487.35 L199.50,490.05 L196.50,490.05 Z" fill="#c8163c"/>
<path d="M202.30,495.89 L203.80,493.19 L200.80,493.19 Z" fill="#7f85c2"/>
<path d="M202.30,494.12 L203.80,491.43 L200.80,491.43 Z" fill="#7f85c2"/>
<path d="M202.30,492.36 L203.80,489.66 L200.80,489.66 Z" fill="#7f85c2"/>
<circle cx="206.20" cy="466.29" r="1.35" fill="#241838"/>
<rect x="215.95" y="522.96" width="2.70" height="2.70" fill="#f6a21e"/>
<rect x="215.95" y="521.19" width="2.70" height="2.70" fill="#f6a21e"/>
<rect x="215.95" y="520.02" width="2.70" height="2.70" fill="#f6a21e"/>
<path d="M221.50,489.71 L223.00,492.41 L220.00,492.41 Z" fill="#c8163c"/>
<path d="M221.50,487.35 L223.00,490.05 L220.00,490.05 Z" fill="#c8163c"/>
<path d="M221.50,485.58 L223.00,488.28 L220.00,488.28 Z" fill="#c8163c"/>
<path d="M226.30,495.89 L227.80,493.19 L224.80,493.19 Z" fill="#7f85c2"/>
<path d="M226.30,493.54 L227.80,490.84 L224.80,490.84 Z" fill="#7f85c2"/>
<path d="M226.30,491.77 L227.80,489.07 L224.80,489.07 Z" fill="#7f85c2"/>
<circle cx="231.20" cy="467.77" r="1.35" fill="#241838"/>
<circle cx="231.20" cy="466.59" r="1.35" fill="#241838"/>
<rect x="239.85" y="522.96" width="2.70" height="2.70" fill="#f6a21e"/>
<rect x="239.85" y="521.19" width="2.70" height="2.70" fill="#f6a21e"/>
<rect x="239.85" y="520.02" width="2.70" height="2.70" fill="#f6a21e"/>
<path d="M245.60,489.12 L247.10,491.82 L244.10,491.82 Z" fill="#c8163c"/>
<path d="M245.60,488.53 L247.10,491.23 L244.10,491.23 Z" fill="#c8163c"/>
<path d="M250.00,494.12 L251.50,491.43 L248.50,491.43 Z" fill="#7f85c2"/>
<path d="M250.00,492.95 L251.50,490.25 L248.50,490.25 Z" fill="#7f85c2"/>
<path d="M250.00,491.77 L251.50,489.07 L248.50,489.07 Z" fill="#7f85c2"/>
<circle cx="254.20" cy="470.71" r="1.35" fill="#241838"/>
<circle cx="254.20" cy="467.77" r="1.35" fill="#241838"/>
<circle cx="254.20" cy="466.00" r="1.35" fill="#241838"/>
<rect x="262.95" y="522.96" width="2.70" height="2.70" fill="#f6a21e"/>
<rect x="262.95" y="521.19" width="2.70" height="2.70" fill="#f6a21e"/>
<rect x="262.95" y="520.02" width="2.70" height="2.70" fill="#f6a21e"/>
<path d="M269.60,522.10 L271.10,524.80 L268.10,524.80 Z" fill="#c8163c"/>
<path d="M273.80,494.71 L275.30,492.01 L272.30,492.01 Z" fill="#7f85c2"/>
<path d="M273.80,492.95 L275.30,490.25 L272.30,490.25 Z" fill="#7f85c2"/>
<circle cx="278.10" cy="494.86" r="1.35" fill="#241838"/>
<circle cx="278.10" cy="493.09" r="1.35" fill="#241838"/>
<line x1="202.30" y1="494.86" x2="202.30" y2="490.15" stroke="#8a8ec8" stroke-width="0.5"/>
<line x1="200.50" y1="492.50" x2="204.10" y2="492.50" stroke="#8a8ec8" stroke-width="0.5"/>
<line x1="201.50" y1="494.86" x2="203.10" y2="494.86" stroke="#8a8ec8" stroke-width="0.5"/>
<line x1="201.50" y1="490.15" x2="203.10" y2="490.15" stroke="#8a8ec8" stroke-width="0.5"/>
<line x1="226.30" y1="494.86" x2="226.30" y2="489.56" stroke="#8a8ec8" stroke-width="0.5"/>
<line x1="224.50" y1="491.92" x2="228.10" y2="491.92" stroke="#8a8ec8" stroke-width="0.5"/>
<line x1="225.50" y1="494.86" x2="227.10" y2="494.86" stroke="#8a8ec8" stroke-width="0.5"/>
<line x1="225.50" y1="489.56" x2="227.10" y2="489.56" stroke="#8a8ec8" stroke-width="0.5"/>
<text x="200.40" y="535.60" font-size="5.3" text-anchor="middle" textLength="11.50" lengthAdjust="spacingAndGlyphs">SEM</text>
<text x="224.40" y="535.60" font-size="5.3" text-anchor="middle" textLength="15.00" lengthAdjust="spacingAndGlyphs">CD19–</text>
<text x="224.40" y="542.00" font-size="5.3" text-anchor="middle" textLength="11.50" lengthAdjust="spacingAndGlyphs">SEM</text>
<text x="247.50" y="535.60" font-size="5.3" text-anchor="middle" textLength="17.00" lengthAdjust="spacingAndGlyphs">CD133–</text>
<text x="247.50" y="542.00" font-size="5.3" text-anchor="middle" textLength="11.50" lengthAdjust="spacingAndGlyphs">SEM</text>
<text x="258.00" y="535.80" font-size="5.3" textLength="36.00" lengthAdjust="spacingAndGlyphs">CD19–CD133–</text>
<text x="275.50" y="542.80" font-size="5.3" text-anchor="middle" textLength="11.50" lengthAdjust="spacingAndGlyphs">SEM</text>
<line x1="334.20" y1="464.30" x2="334.20" y2="525.70" stroke="#231f20" stroke-width="1.0"/>
<line x1="332.10" y1="466.50" x2="334.20" y2="466.50" stroke="#231f20" stroke-width="0.9"/>
<text x="311.90" y="468.85" font-size="6.6" textLength="16.50" lengthAdjust="spacingAndGlyphs">20000</text>
<line x1="332.10" y1="481.30" x2="334.20" y2="481.30" stroke="#231f20" stroke-width="0.9"/>
<text x="311.90" y="483.65" font-size="6.6" textLength="16.50" lengthAdjust="spacingAndGlyphs">15000</text>
<line x1="332.10" y1="496.10" x2="334.20" y2="496.10" stroke="#231f20" stroke-width="0.9"/>
<text x="311.90" y="498.45" font-size="6.6" textLength="16.50" lengthAdjust="spacingAndGlyphs">10000</text>
<line x1="332.10" y1="510.90" x2="334.20" y2="510.90" stroke="#231f20" stroke-width="0.9"/>
<text x="315.20" y="513.25" font-size="6.6" textLength="13.20" lengthAdjust="spacingAndGlyphs">5000</text>
<line x1="332.10" y1="525.70" x2="334.20" y2="525.70" stroke="#231f20" stroke-width="0.9"/>
<text x="325.10" y="528.05" font-size="6.6" textLength="3.30" lengthAdjust="spacingAndGlyphs">0</text>
<line x1="334.20" y1="525.70" x2="425.90" y2="525.70" stroke="#231f20" stroke-width="1.0"/>
<line x1="345.00" y1="525.70" x2="345.00" y2="527.50" stroke="#231f20" stroke-width="1.0"/>
<line x1="368.20" y1="525.70" x2="368.20" y2="527.50" stroke="#231f20" stroke-width="1.0"/>
<line x1="391.60" y1="525.70" x2="391.60" y2="527.50" stroke="#231f20" stroke-width="1.0"/>
<line x1="415.20" y1="525.70" x2="415.20" y2="527.50" stroke="#231f20" stroke-width="1.0"/>
<line x1="355.40" y1="464.30" x2="355.40" y2="525.70" stroke="#4a4a5a" stroke-width="0.9" stroke-dasharray="1.1,1.0"/>
<line x1="378.50" y1="464.30" x2="378.50" y2="525.70" stroke="#4a4a5a" stroke-width="0.9" stroke-dasharray="1.1,1.0"/>
<line x1="401.30" y1="464.30" x2="401.30" y2="525.70" stroke="#4a4a5a" stroke-width="0.9" stroke-dasharray="1.1,1.0"/>
<text transform="translate(306.00,494.40) rotate(-90)" x="0" y="0" font-size="8.0" text-anchor="middle" textLength="62.10" lengthAdjust="spacingAndGlyphs">MFI of NKG2D+ cells</text>
<rect x="335.95" y="524.35" width="2.70" height="2.70" fill="#f6a21e"/>
<rect x="335.95" y="524.05" width="2.70" height="2.70" fill="#f6a21e"/>
<path d="M342.50,511.65 L344.00,514.35 L341.00,514.35 Z" fill="#c8163c"/>
<path d="M342.50,509.28 L344.00,511.98 L341.00,511.98 Z" fill="#c8163c"/>
<path d="M342.50,506.32 L344.00,509.02 L341.00,509.02 Z" fill="#c8163c"/>
<path d="M347.70,521.99 L349.20,519.29 L346.20,519.29 Z" fill="#7f85c2"/>
<path d="M347.70,519.92 L349.20,517.22 L346.20,517.22 Z" fill="#7f85c2"/>
<path d="M347.70,517.85 L349.20,515.15 L346.20,515.15 Z" fill="#7f85c2"/>
<circle cx="352.70" cy="491.66" r="1.35" fill="#241838"/>
<circle cx="352.70" cy="484.26" r="1.35" fill="#241838"/>
<circle cx="352.70" cy="480.41" r="1.35" fill="#241838"/>
<circle cx="352.70" cy="478.34" r="1.35" fill="#241838"/>
<rect x="359.45" y="524.35" width="2.70" height="2.70" fill="#f6a21e"/>
<rect x="359.45" y="524.05" width="2.70" height="2.70" fill="#f6a21e"/>
<path d="M365.60,510.76 L367.10,513.46 L364.10,513.46 Z" fill="#c8163c"/>
<path d="M365.60,509.28 L367.10,511.98 L364.10,511.98 Z" fill="#c8163c"/>
<path d="M365.60,508.10 L367.10,510.80 L364.10,510.80 Z" fill="#c8163c"/>
<path d="M370.80,520.81 L372.30,518.11 L369.30,518.11 Z" fill="#7f85c2"/>
<path d="M370.80,520.51 L372.30,517.81 L369.30,517.81 Z" fill="#7f85c2"/>
<circle cx="375.80" cy="496.10" r="1.35" fill="#241838"/>
<circle cx="375.80" cy="490.77" r="1.35" fill="#241838"/>
<circle cx="375.80" cy="488.40" r="1.35" fill="#241838"/>
<circle cx="375.80" cy="486.63" r="1.35" fill="#241838"/>
<rect x="382.85" y="524.35" width="2.70" height="2.70" fill="#f6a21e"/>
<rect x="382.85" y="524.05" width="2.70" height="2.70" fill="#f6a21e"/>
<path d="M389.20,511.65 L390.70,514.35 L387.70,514.35 Z" fill="#c8163c"/>
<path d="M389.20,509.28 L390.70,511.98 L387.70,511.98 Z" fill="#c8163c"/>
<path d="M389.20,508.39 L390.70,511.09 L387.70,511.09 Z" fill="#c8163c"/>
<path d="M394.40,520.81 L395.90,518.11 L392.90,518.11 Z" fill="#7f85c2"/>
<path d="M394.40,520.51 L395.90,517.81 L392.90,517.81 Z" fill="#7f85c2"/>
<circle cx="398.80" cy="493.14" r="1.35" fill="#241838"/>
<circle cx="398.80" cy="490.48" r="1.35" fill="#241838"/>
<circle cx="398.80" cy="488.70" r="1.35" fill="#241838"/>
<circle cx="398.80" cy="485.74" r="1.35" fill="#241838"/>
<rect x="405.95" y="524.35" width="2.70" height="2.70" fill="#f6a21e"/>
<rect x="405.95" y="524.05" width="2.70" height="2.70" fill="#f6a21e"/>
<path d="M412.30,524.08 L413.80,526.78 L410.80,526.78 Z" fill="#c8163c"/>
<path d="M417.50,521.40 L419.00,518.70 L416.00,518.70 Z" fill="#7f85c2"/>
<circle cx="422.70" cy="519.78" r="1.35" fill="#241838"/>
<line x1="352.70" y1="491.66" x2="352.70" y2="478.34" stroke="#444" stroke-width="0.5"/>
<line x1="350.90" y1="484.26" x2="354.50" y2="484.26" stroke="#444" stroke-width="0.5"/>
<line x1="351.90" y1="491.66" x2="353.50" y2="491.66" stroke="#444" stroke-width="0.5"/>
<line x1="351.90" y1="478.34" x2="353.50" y2="478.34" stroke="#444" stroke-width="0.5"/>
<line x1="347.70" y1="520.37" x2="347.70" y2="516.23" stroke="#8a8ec8" stroke-width="0.5"/>
<line x1="345.90" y1="518.30" x2="349.50" y2="518.30" stroke="#8a8ec8" stroke-width="0.5"/>
<line x1="346.90" y1="520.37" x2="348.50" y2="520.37" stroke="#8a8ec8" stroke-width="0.5"/>
<line x1="346.90" y1="516.23" x2="348.50" y2="516.23" stroke="#8a8ec8" stroke-width="0.5"/>
<text x="345.40" y="535.60" font-size="5.3" text-anchor="middle" textLength="11.50" lengthAdjust="spacingAndGlyphs">SEM</text>
<text x="369.40" y="535.60" font-size="5.3" text-anchor="middle" textLength="15.00" lengthAdjust="spacingAndGlyphs">CD19–</text>
<text x="369.40" y="542.00" font-size="5.3" text-anchor="middle" textLength="11.50" lengthAdjust="spacingAndGlyphs">SEM</text>
<text x="391.90" y="535.60" font-size="5.3" text-anchor="middle" textLength="17.00" lengthAdjust="spacingAndGlyphs">CD133–</text>
<text x="391.90" y="542.00" font-size="5.3" text-anchor="middle" textLength="11.50" lengthAdjust="spacingAndGlyphs">SEM</text>
<text x="406.50" y="535.80" font-size="5.3" textLength="33.50" lengthAdjust="spacingAndGlyphs">CD19–CD133–</text>
<text x="422.60" y="542.80" font-size="5.3" text-anchor="middle" textLength="11.50" lengthAdjust="spacingAndGlyphs">SEM</text>
<rect x="406.60" y="476.80" width="2.60" height="2.60" fill="#f6a21e"/>
<path d="M407.90,482.80 L409.20,485.14 L406.60,485.14 Z" fill="#c8163c"/>
<path d="M407.90,492.60 L409.20,490.26 L406.60,490.26 Z" fill="#7f85c2"/>
<circle cx="407.90" cy="498.30" r="1.20" fill="#241838"/>
<text x="413.60" y="480.20" font-size="6.2" textLength="3.40" lengthAdjust="spacingAndGlyphs">T</text>
<text x="413.50" y="486.30" font-size="6.2" textLength="23.80" lengthAdjust="spacingAndGlyphs">BiCAR-T</text>
<text x="414.50" y="493.30" font-size="6.2" textLength="9.30" lengthAdjust="spacingAndGlyphs">iNKT</text>
<text x="413.50" y="500.40" font-size="6.2" textLength="35.30" lengthAdjust="spacingAndGlyphs">Bi CAR-iNKT</text>
<text x="6.60" y="577.60" font-size="11" font-weight="bold">I</text>
<text x="15.90" y="596.60" font-size="6.3" textLength="58.80" lengthAdjust="spacingAndGlyphs">Overnight co-culture</text>
<line x1="15.90" y1="598.20" x2="74.70" y2="598.20" stroke="#231f20" stroke-width="0.5"/>
<text x="107.20" y="596.20" font-size="6.3" textLength="50.80" lengthAdjust="spacingAndGlyphs">Cytotoxicity assay</text>
<line x1="107.20" y1="597.80" x2="158.00" y2="597.80" stroke="#231f20" stroke-width="0.5"/>
<text x="14.70" y="610.20" font-size="5.2" textLength="27.20" lengthAdjust="spacingAndGlyphs">CAR-T cells</text>
<text x="58.50" y="603.60" font-size="5.2" textLength="10.40" lengthAdjust="spacingAndGlyphs">SEM</text>
<text x="45.80" y="610.20" font-size="5.2" textLength="35.50" lengthAdjust="spacingAndGlyphs">CD19+CD133+</text>
<circle cx="24.20" cy="621.20" r="5.60" fill="#d3e3f1"/>
<circle cx="24.20" cy="621.20" r="4.82" fill="none" stroke="#bcd2e7" stroke-width="0.90"/>
<circle cx="24.20" cy="621.20" r="3.36" fill="url(#gT)"/>
<line x1="21.20" y1="616.60" x2="22.80" y2="618.80" stroke="#ecd0d4" stroke-width="1.0"/>
<ellipse cx="20.40" cy="615.40" rx="1.9" ry="2.1" fill="#a86272" transform="rotate(-30 20.40 615.40)"/>
<line x1="30.00" y1="616.60" x2="28.60" y2="618.60" stroke="#ccd8e8" stroke-width="1.0"/>
<path d="M30.80,613.30 L32.60,615.40 L30.80,617.50 L29.00,615.40 Z" fill="#3e5f8e"/>
<path d="M67.17,621.87 L65.84,623.92 L64.44,625.93 L62.04,626.44 L59.63,626.87 L57.58,625.54 L55.57,624.14 L55.06,621.74 L54.63,619.33 L55.96,617.28 L57.36,615.27 L59.76,614.76 L62.17,614.33 L64.22,615.66 L66.23,617.06 L66.74,619.46 Z" fill="url(#gS)" stroke="#d9d5ef" stroke-width="0.6" stroke-linejoin="round"/>
<rect x="58.60" y="618.30" width="4.61" height="4.61" fill="#b2a9da" rx="1.0" opacity="0.85" filter="url(#bl2)"/>
<line x1="57.00" y1="616.00" x2="54.50" y2="611.60" stroke="#555" stroke-width="0.6"/>
<circle cx="54.50" cy="611.60" r="1.20" fill="#4a6aa8"/>
<line x1="65.50" y1="616.00" x2="70.60" y2="611.60" stroke="#555" stroke-width="0.6"/>
<circle cx="70.60" cy="611.60" r="1.20" fill="#5a0a10"/>
<text x="22.50" y="636.80" font-size="5.2" textLength="4.80" lengthAdjust="spacingAndGlyphs">or</text>
<text x="60.20" y="636.80" font-size="5.2" textLength="5.20" lengthAdjust="spacingAndGlyphs">or</text>
<text x="43.30" y="635.20" font-size="5.0" text-anchor="middle">+</text>
<line x1="72.30" y1="633.90" x2="86.50" y2="633.90" stroke="#444" stroke-width="0.5"/>
<path d="M88.40,633.90 L86.00,632.90 L86.00,634.90 Z" fill="#111"/>
<circle cx="24.20" cy="649.80" r="5.60" fill="#d6eccb"/>
<circle cx="24.20" cy="649.80" r="4.82" fill="none" stroke="#c3e2b4" stroke-width="0.90"/>
<circle cx="24.20" cy="649.80" r="3.36" fill="url(#gN)"/>
<line x1="20.20" y1="644.30" x2="21.80" y2="646.50" stroke="#ecd0d4" stroke-width="1.0"/>
<ellipse cx="19.40" cy="643.10" rx="1.9" ry="2.1" fill="#a86272" transform="rotate(-30 19.40 643.10)"/>
<line x1="29.00" y1="644.90" x2="27.60" y2="646.90" stroke="#ccd8e8" stroke-width="1.0"/>
<path d="M29.80,641.60 L31.60,643.70 L29.80,645.80 L28.00,643.70 Z" fill="#3e5f8e"/>
<g transform="translate(31.30,649.80) scale(0.85)"><path d="M-3.2,0 L-0.8,0" stroke="#f1cfb0" stroke-width="1.4"/><path d="M1.9,-2.4 L-0.9,0 L1.9,2.4" fill="none" stroke="#e6b48c" stroke-width="2.0" stroke-linecap="round" stroke-linejoin="round"/><path d="M1.6,-1.9 L-0.4,0 L1.6,1.9" fill="none" stroke="#9a4e42" stroke-width="0.9" stroke-linecap="round"/></g>
<path d="M67.17,645.67 L65.84,647.72 L64.44,649.73 L62.04,650.24 L59.63,650.67 L57.58,649.34 L55.57,647.94 L55.06,645.54 L54.63,643.13 L55.96,641.08 L57.36,639.07 L59.76,638.56 L62.17,638.13 L64.22,639.46 L66.23,640.86 L66.74,643.26 Z" fill="url(#gS)" stroke="#d9d5ef" stroke-width="0.6" stroke-linejoin="round"/>
<rect x="58.60" y="642.10" width="4.61" height="4.61" fill="#b2a9da" rx="1.0" opacity="0.85" filter="url(#bl2)"/>
<text x="55.80" y="656.90" font-size="5.2" textLength="10.40" lengthAdjust="spacingAndGlyphs">SEM</text>
<text x="5.20" y="662.90" font-size="5.2" textLength="36.00" lengthAdjust="spacingAndGlyphs">CAR-iNKT cells</text>
<text x="45.30" y="662.90" font-size="5.2" textLength="34.30" lengthAdjust="spacingAndGlyphs">CD19–CD133–</text>
<text x="88.80" y="610.60" font-size="5.2" textLength="27.00" lengthAdjust="spacingAndGlyphs">CAR-T cells</text>
<circle cx="99.60" cy="619.90" r="5.60" fill="#d3e3f1"/>
<circle cx="99.60" cy="619.90" r="4.82" fill="none" stroke="#bcd2e7" stroke-width="0.90"/>
<circle cx="99.60" cy="619.90" r="3.36" fill="url(#gT)"/>
<line x1="95.80" y1="614.90" x2="97.40" y2="617.10" stroke="#ecd0d4" stroke-width="1.0"/>
<ellipse cx="95.00" cy="613.70" rx="1.9" ry="2.1" fill="#a86272" transform="rotate(-30 95.00 613.70)"/>
<line x1="104.60" y1="614.90" x2="103.20" y2="616.90" stroke="#ccd8e8" stroke-width="1.0"/>
<path d="M105.40,611.60 L107.20,613.70 L105.40,615.80 L103.60,613.70 Z" fill="#3e5f8e"/>
<text x="97.30" y="635.30" font-size="5.2" textLength="4.60" lengthAdjust="spacingAndGlyphs">or</text>
<text x="115.10" y="635.40" font-size="5.0" text-anchor="middle">+</text>
<circle cx="100.30" cy="648.30" r="5.60" fill="#d6eccb"/>
<circle cx="100.30" cy="648.30" r="4.82" fill="none" stroke="#c3e2b4" stroke-width="0.90"/>
<circle cx="100.30" cy="648.30" r="3.36" fill="url(#gN)"/>
<line x1="97.40" y1="641.90" x2="99.00" y2="644.10" stroke="#ecd0d4" stroke-width="1.0"/>
<ellipse cx="96.60" cy="640.70" rx="1.9" ry="2.1" fill="#a86272" transform="rotate(-30 96.60 640.70)"/>
<line x1="105.70" y1="641.90" x2="104.30" y2="643.90" stroke="#ccd8e8" stroke-width="1.0"/>
<path d="M106.50,638.60 L108.30,640.70 L106.50,642.80 L104.70,640.70 Z" fill="#3e5f8e"/>
<g transform="translate(108.40,647.60) scale(0.85)"><path d="M-3.2,0 L-0.8,0" stroke="#f1cfb0" stroke-width="1.4"/><path d="M1.9,-2.4 L-0.9,0 L1.9,2.4" fill="none" stroke="#e6b48c" stroke-width="2.0" stroke-linecap="round" stroke-linejoin="round"/><path d="M1.6,-1.9 L-0.4,0 L1.6,1.9" fill="none" stroke="#9a4e42" stroke-width="0.9" stroke-linecap="round"/></g>
<text x="86.90" y="663.10" font-size="5.2" textLength="34.60" lengthAdjust="spacingAndGlyphs">CAR-iNKT cells</text>
<rect x="121.60" y="613.80" width="71.20" height="35.00" fill="#fff" stroke="#1a1a1a" stroke-width="1.1" rx="4.5"/>
<path d="M145.66,625.99 L144.20,628.24 L142.67,630.43 L140.05,630.99 L137.41,631.46 L135.16,630.00 L132.97,628.47 L132.41,625.85 L131.94,623.21 L133.40,620.96 L134.93,618.77 L137.55,618.21 L140.19,617.74 L142.44,619.20 L144.63,620.73 L145.19,623.35 Z" fill="url(#gS)" stroke="#d9d5ef" stroke-width="0.6" stroke-linejoin="round"/>
<rect x="136.28" y="622.08" width="5.04" height="5.04" fill="#b2a9da" rx="1.0" opacity="0.85" filter="url(#bl2)"/>
<text x="141.60" y="619.00" font-size="5.2" textLength="26.70" lengthAdjust="spacingAndGlyphs">Target cells</text>
<text x="153.90" y="629.60" font-size="10.5" textLength="7.20" lengthAdjust="spacingAndGlyphs">±</text>
<g transform="translate(171.20,619.00) rotate(10) scale(1.15)" stroke="#f0bf98" stroke-width="1.1" stroke-linecap="round" fill="none"><path d="M0,2.6 L0,0 M0,0 L-1.8,-2.2 M0,0 L1.8,-2.2 M-0.9,-0.6 L-2.4,-2.6 M0.9,-0.6 L2.4,-2.6"/></g>
<g transform="translate(178.40,624.60) rotate(25) scale(1.15)" stroke="#f0bf98" stroke-width="1.1" stroke-linecap="round" fill="none"><path d="M0,2.6 L0,0 M0,0 L-1.8,-2.2 M0,0 L1.8,-2.2 M-0.9,-0.6 L-2.4,-2.6 M0.9,-0.6 L2.4,-2.6"/></g>
<g transform="translate(172.00,628.40) rotate(-10) scale(1.15)" stroke="#f0bf98" stroke-width="1.1" stroke-linecap="round" fill="none"><path d="M0,2.6 L0,0 M0,0 L-1.8,-2.2 M0,0 L1.8,-2.2 M-0.9,-0.6 L-2.4,-2.6 M0.9,-0.6 L2.4,-2.6"/></g>
<text x="135.90" y="638.00" font-size="5.2" textLength="10.80" lengthAdjust="spacingAndGlyphs">SEM</text>
<text x="122.20" y="644.10" font-size="5.2" textLength="41.10" lengthAdjust="spacingAndGlyphs">CD19/CD133 KO</text>
<text x="159.70" y="638.00" font-size="5.2" textLength="28.10" lengthAdjust="spacingAndGlyphs">Anti-NKG2D</text>
<text x="164.70" y="644.10" font-size="5.2" textLength="21.00" lengthAdjust="spacingAndGlyphs">antibody</text>
<line x1="223.80" y1="601.70" x2="223.80" y2="652.60" stroke="#231f20" stroke-width="1.1"/>
<line x1="220.80" y1="603.90" x2="223.80" y2="603.90" stroke="#231f20" stroke-width="1.0"/>
<text x="210.90" y="606.25" font-size="6.6" textLength="6.60" lengthAdjust="spacingAndGlyphs">60</text>
<line x1="220.80" y1="612.02" x2="223.80" y2="612.02" stroke="#231f20" stroke-width="1.0"/>
<text x="210.90" y="614.37" font-size="6.6" textLength="6.60" lengthAdjust="spacingAndGlyphs">50</text>
<line x1="220.80" y1="620.13" x2="223.80" y2="620.13" stroke="#231f20" stroke-width="1.0"/>
<text x="210.90" y="622.48" font-size="6.6" textLength="6.60" lengthAdjust="spacingAndGlyphs">40</text>
<line x1="220.80" y1="628.25" x2="223.80" y2="628.25" stroke="#231f20" stroke-width="1.0"/>
<text x="210.90" y="630.60" font-size="6.6" textLength="6.60" lengthAdjust="spacingAndGlyphs">30</text>
<line x1="220.80" y1="636.37" x2="223.80" y2="636.37" stroke="#231f20" stroke-width="1.0"/>
<text x="210.90" y="638.72" font-size="6.6" textLength="6.60" lengthAdjust="spacingAndGlyphs">20</text>
<line x1="220.80" y1="644.48" x2="223.80" y2="644.48" stroke="#231f20" stroke-width="1.0"/>
<text x="210.90" y="646.83" font-size="6.6" textLength="6.60" lengthAdjust="spacingAndGlyphs">10</text>
<line x1="220.80" y1="652.60" x2="223.80" y2="652.60" stroke="#231f20" stroke-width="1.0"/>
<text x="214.20" y="654.95" font-size="6.6" textLength="3.30" lengthAdjust="spacingAndGlyphs">0</text>
<line x1="223.80" y1="652.60" x2="288.50" y2="652.60" stroke="#231f20" stroke-width="1.0"/>
<line x1="233.70" y1="652.60" x2="233.70" y2="654.40" stroke="#231f20" stroke-width="1.0"/>
<line x1="249.00" y1="652.60" x2="249.00" y2="654.40" stroke="#231f20" stroke-width="1.0"/>
<line x1="263.80" y1="652.60" x2="263.80" y2="654.40" stroke="#231f20" stroke-width="1.0"/>
<line x1="279.20" y1="652.60" x2="279.20" y2="654.40" stroke="#231f20" stroke-width="1.0"/>
<text x="233.70" y="663.90" font-size="6.4" text-anchor="middle">2.5</text>
<text x="249.00" y="663.90" font-size="6.4" text-anchor="middle">5</text>
<text x="263.80" y="663.90" font-size="6.4" text-anchor="middle">10</text>
<text x="279.20" y="663.90" font-size="6.4" text-anchor="middle">20</text>
<text x="244.20" y="676.00" font-size="9.0" textLength="24.10" lengthAdjust="spacingAndGlyphs">E:T ratio</text>
<text transform="translate(205.20,627.40) rotate(-90)" x="0" y="0" font-size="7.8" text-anchor="middle" textLength="45.40" lengthAdjust="spacingAndGlyphs">Cytotoxicity (%)</text>
<polyline points="233.70,647.30 249.00,646.50 263.80,643.70 279.20,640.20" fill="none" stroke="#f1b266" stroke-width="0.9"/>
<polyline points="233.70,646.90 249.00,646.00 263.80,641.20 279.20,633.50" fill="none" stroke="#9494cc" stroke-width="0.9"/>
<polyline points="233.70,646.00 249.00,643.50 263.80,634.40 279.20,618.10" fill="none" stroke="#c8203e" stroke-width="0.9"/>
<polyline points="233.70,641.20 249.00,637.70 263.80,625.80 279.20,609.00" fill="none" stroke="#2c1b5c" stroke-width="0.9"/>
<path d="M233.70,645.90 L235.00,648.24 L232.40,648.24 Z" fill="#f1b266"/>
<path d="M249.00,645.10 L250.30,647.44 L247.70,647.44 Z" fill="#f1b266"/>
<path d="M263.80,642.30 L265.10,644.64 L262.50,644.64 Z" fill="#f1b266"/>
<path d="M279.20,638.80 L280.50,641.14 L277.90,641.14 Z" fill="#f1b266"/>
<path d="M233.70,645.50 L235.00,647.84 L232.40,647.84 Z" fill="#9494cc"/>
<path d="M249.00,644.60 L250.30,646.94 L247.70,646.94 Z" fill="#9494cc"/>
<path d="M263.80,639.80 L265.10,642.14 L262.50,642.14 Z" fill="#9494cc"/>
<path d="M279.20,632.10 L280.50,634.44 L277.90,634.44 Z" fill="#9494cc"/>
<rect x="232.40" y="644.70" width="2.60" height="2.60" fill="#c8203e"/>
<rect x="247.70" y="642.20" width="2.60" height="2.60" fill="#c8203e"/>
<rect x="262.50" y="633.10" width="2.60" height="2.60" fill="#c8203e"/>
<rect x="277.90" y="616.80" width="2.60" height="2.60" fill="#c8203e"/>
<rect x="232.30" y="639.80" width="2.80" height="2.80" fill="#2c1b5c"/>
<rect x="247.60" y="636.30" width="2.80" height="2.80" fill="#2c1b5c"/>
<rect x="262.40" y="624.40" width="2.80" height="2.80" fill="#2c1b5c"/>
<rect x="277.80" y="607.60" width="2.80" height="2.80" fill="#2c1b5c"/>
<text x="211.70" y="588.80" font-size="6.7" textLength="94.30" lengthAdjust="spacingAndGlyphs">Pre-culture: CD19<tspan font-size="3.8" dy="-2.2">+</tspan><tspan dy="2.2">CD133</tspan><tspan font-size="3.8" dy="-2.2">+</tspan><tspan dy="2.2"> SEM</tspan></text>
<text x="218.10" y="596.60" font-size="6.7" textLength="78.40" lengthAdjust="spacingAndGlyphs">Targets: CD19<tspan font-size="3.8" dy="-2.2">–</tspan><tspan dy="2.2">CD133</tspan><tspan font-size="3.8" dy="-2.2">–</tspan><tspan dy="2.2"> SEM</tspan></text>
<line x1="335.40" y1="601.00" x2="335.40" y2="652.30" stroke="#231f20" stroke-width="1.1"/>
<line x1="332.40" y1="603.50" x2="335.40" y2="603.50" stroke="#231f20" stroke-width="1.0"/>
<text x="322.50" y="605.85" font-size="6.6" textLength="6.60" lengthAdjust="spacingAndGlyphs">60</text>
<line x1="332.40" y1="611.63" x2="335.40" y2="611.63" stroke="#231f20" stroke-width="1.0"/>
<text x="322.50" y="613.98" font-size="6.6" textLength="6.60" lengthAdjust="spacingAndGlyphs">50</text>
<line x1="332.40" y1="619.77" x2="335.40" y2="619.77" stroke="#231f20" stroke-width="1.0"/>
<text x="322.50" y="622.12" font-size="6.6" textLength="6.60" lengthAdjust="spacingAndGlyphs">40</text>
<line x1="332.40" y1="627.90" x2="335.40" y2="627.90" stroke="#231f20" stroke-width="1.0"/>
<text x="322.50" y="630.25" font-size="6.6" textLength="6.60" lengthAdjust="spacingAndGlyphs">30</text>
<line x1="332.40" y1="636.03" x2="335.40" y2="636.03" stroke="#231f20" stroke-width="1.0"/>
<text x="322.50" y="638.38" font-size="6.6" textLength="6.60" lengthAdjust="spacingAndGlyphs">20</text>
<line x1="332.40" y1="644.17" x2="335.40" y2="644.17" stroke="#231f20" stroke-width="1.0"/>
<text x="322.50" y="646.52" font-size="6.6" textLength="6.60" lengthAdjust="spacingAndGlyphs">10</text>
<line x1="332.40" y1="652.30" x2="335.40" y2="652.30" stroke="#231f20" stroke-width="1.0"/>
<text x="325.80" y="654.65" font-size="6.6" textLength="3.30" lengthAdjust="spacingAndGlyphs">0</text>
<line x1="335.40" y1="652.30" x2="399.00" y2="652.30" stroke="#231f20" stroke-width="1.0"/>
<line x1="345.80" y1="652.30" x2="345.80" y2="654.10" stroke="#231f20" stroke-width="1.0"/>
<line x1="360.60" y1="652.30" x2="360.60" y2="654.10" stroke="#231f20" stroke-width="1.0"/>
<line x1="376.00" y1="652.30" x2="376.00" y2="654.10" stroke="#231f20" stroke-width="1.0"/>
<line x1="390.40" y1="652.30" x2="390.40" y2="654.10" stroke="#231f20" stroke-width="1.0"/>
<text x="345.80" y="663.60" font-size="6.4" text-anchor="middle">2.5</text>
<text x="360.60" y="663.60" font-size="6.4" text-anchor="middle">5</text>
<text x="376.00" y="663.60" font-size="6.4" text-anchor="middle">10</text>
<text x="390.40" y="663.60" font-size="6.4" text-anchor="middle">20</text>
<text x="356.20" y="675.70" font-size="9.0" textLength="23.60" lengthAdjust="spacingAndGlyphs">E:T ratio</text>
<text transform="translate(317.20,626.50) rotate(-90)" x="0" y="0" font-size="7.8" text-anchor="middle" textLength="44.60" lengthAdjust="spacingAndGlyphs">Cytotoxicity (%)</text>
<polyline points="345.80,645.80 360.60,644.60 376.00,641.30 390.40,638.10" fill="none" stroke="#f1b266" stroke-width="0.9"/>
<polyline points="345.80,645.80 360.60,643.30 376.00,639.40 390.40,636.20" fill="none" stroke="#9494cc" stroke-width="0.9"/>
<polyline points="345.80,645.20 360.60,641.30 376.00,636.20 390.40,631.70" fill="none" stroke="#c8203e" stroke-width="0.9"/>
<polyline points="345.80,642.30 360.60,637.50 376.00,632.10 390.40,626.50" fill="none" stroke="#2c1b5c" stroke-width="0.9"/>
<path d="M345.80,644.40 L347.10,646.74 L344.50,646.74 Z" fill="#f1b266"/>
<path d="M360.60,643.20 L361.90,645.54 L359.30,645.54 Z" fill="#f1b266"/>
<path d="M376.00,639.90 L377.30,642.24 L374.70,642.24 Z" fill="#f1b266"/>
<path d="M390.40,636.70 L391.70,639.04 L389.10,639.04 Z" fill="#f1b266"/>
<path d="M345.80,644.40 L347.10,646.74 L344.50,646.74 Z" fill="#9494cc"/>
<path d="M360.60,641.90 L361.90,644.24 L359.30,644.24 Z" fill="#9494cc"/>
<path d="M376.00,638.00 L377.30,640.34 L374.70,640.34 Z" fill="#9494cc"/>
<path d="M390.40,634.80 L391.70,637.14 L389.10,637.14 Z" fill="#9494cc"/>
<rect x="344.50" y="643.90" width="2.60" height="2.60" fill="#c8203e"/>
<rect x="359.30" y="640.00" width="2.60" height="2.60" fill="#c8203e"/>
<rect x="374.70" y="634.90" width="2.60" height="2.60" fill="#c8203e"/>
<rect x="389.10" y="630.40" width="2.60" height="2.60" fill="#c8203e"/>
<rect x="344.40" y="640.90" width="2.80" height="2.80" fill="#2c1b5c"/>
<rect x="359.20" y="636.10" width="2.80" height="2.80" fill="#2c1b5c"/>
<rect x="374.60" y="630.70" width="2.80" height="2.80" fill="#2c1b5c"/>
<rect x="389.00" y="625.10" width="2.80" height="2.80" fill="#2c1b5c"/>
<text x="323.50" y="588.60" font-size="6.7" textLength="89.10" lengthAdjust="spacingAndGlyphs">Pre-culture: CD19<tspan font-size="3.8" dy="-2.2">–</tspan><tspan dy="2.2">CD133</tspan><tspan font-size="3.8" dy="-2.2">–</tspan><tspan dy="2.2"> SEM</tspan></text>
<text x="328.80" y="596.20" font-size="6.7" textLength="79.50" lengthAdjust="spacingAndGlyphs">Targets: CD19<tspan font-size="3.8" dy="-2.2">–</tspan><tspan dy="2.2">CD133</tspan><tspan font-size="3.8" dy="-2.2">–</tspan><tspan dy="2.2"> SEM</tspan></text>
<line x1="397.40" y1="602.50" x2="401.00" y2="602.50" stroke="#2c1b5c" stroke-width="0.7"/>
<rect x="398.05" y="601.35" width="2.30" height="2.30" fill="#2c1b5c"/>
<text x="405.00" y="604.60" font-size="6.0" textLength="48.80" lengthAdjust="spacingAndGlyphs">Bi CAR-iNKT + Ig</text>
<line x1="397.40" y1="609.20" x2="401.00" y2="609.20" stroke="#c8203e" stroke-width="0.7"/>
<rect x="398.05" y="608.05" width="2.30" height="2.30" fill="#c8203e"/>
<text x="405.00" y="611.30" font-size="6.0" textLength="38.80" lengthAdjust="spacingAndGlyphs">Bi CAR-T + Ig</text>
<line x1="397.40" y1="616.00" x2="401.00" y2="616.00" stroke="#9494cc" stroke-width="0.7"/>
<path d="M399.20,614.76 L400.35,616.83 L398.05,616.83 Z" fill="#9494cc"/>
<text x="405.00" y="618.10" font-size="6.0" textLength="75.40" lengthAdjust="spacingAndGlyphs">Bi CAR-iNKT + NKG2D Ab</text>
<line x1="397.40" y1="622.70" x2="401.00" y2="622.70" stroke="#f1b266" stroke-width="0.7"/>
<path d="M399.20,621.46 L400.35,623.53 L398.05,623.53 Z" fill="#f1b266"/>
<text x="405.00" y="624.80" font-size="6.0" textLength="65.40" lengthAdjust="spacingAndGlyphs">Bi CAR-T + NKG2D Ab</text>
<rect x="0.5" y="0.5" width="519" height="684" fill="none" stroke="#505050" stroke-width="1"/>
</svg></body></html>
